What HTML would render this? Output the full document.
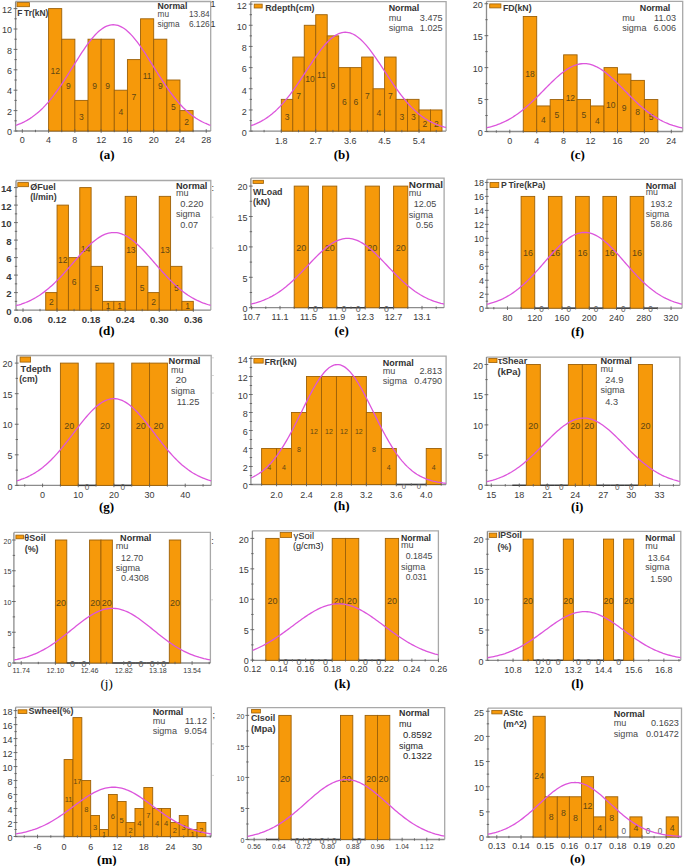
<!DOCTYPE html>
<html><head><meta charset="utf-8"><style>
html,body{margin:0;padding:0;background:#fff;width:685px;height:866px;overflow:hidden;font-family:"Liberation Sans",sans-serif;}
svg{display:block;}
</style></head><body>
<svg width="685" height="866" viewBox="0 0 685 866" font-family="Liberation Sans, sans-serif"><rect width="685" height="866" fill="#fff"/><clipPath id="ca"><rect x="15.6" y="1.5" width="195.1" height="129.5"/></clipPath>
<path d="M15.6 1.5H210.7V131" fill="none" stroke="#a8a8a8" stroke-width="1.3"/>
<path d="M15.6 1.5V131H210.7" fill="none" stroke="#8c8c8c" stroke-width="1.3"/>
<rect x="48.6" y="8.6" width="13.14" height="122.4" fill="#F6990A" stroke="#9c6008" stroke-width="0.9"/>
<rect x="61.74" y="39.2" width="13.14" height="91.8" fill="#F6990A" stroke="#9c6008" stroke-width="0.9"/>
<rect x="74.87" y="100.4" width="13.14" height="30.6" fill="#F6990A" stroke="#9c6008" stroke-width="0.9"/>
<rect x="88.01" y="39.2" width="13.14" height="91.8" fill="#F6990A" stroke="#9c6008" stroke-width="0.9"/>
<rect x="101.15" y="39.2" width="13.14" height="91.8" fill="#F6990A" stroke="#9c6008" stroke-width="0.9"/>
<rect x="114.28" y="90.2" width="13.14" height="40.8" fill="#F6990A" stroke="#9c6008" stroke-width="0.9"/>
<rect x="127.42" y="59.6" width="13.14" height="71.4" fill="#F6990A" stroke="#9c6008" stroke-width="0.9"/>
<rect x="140.55" y="18.8" width="13.14" height="112.2" fill="#F6990A" stroke="#9c6008" stroke-width="0.9"/>
<rect x="153.69" y="39.2" width="13.14" height="91.8" fill="#F6990A" stroke="#9c6008" stroke-width="0.9"/>
<rect x="166.83" y="80" width="13.14" height="51" fill="#F6990A" stroke="#9c6008" stroke-width="0.9"/>
<rect x="179.96" y="110.6" width="13.14" height="20.4" fill="#F6990A" stroke="#9c6008" stroke-width="0.9"/>
<path d="M13.6 131H17.4" stroke="#606060" stroke-width="0.9"/>
<text x="12.1" y="135.24" font-size="9" fill="#3a3a3a" text-anchor="end">0</text>
<path d="M13.6 110.6H17.4" stroke="#606060" stroke-width="0.9"/>
<text x="12.1" y="114.84" font-size="9" fill="#3a3a3a" text-anchor="end">2</text>
<path d="M13.6 90.2H17.4" stroke="#606060" stroke-width="0.9"/>
<text x="12.1" y="94.44" font-size="9" fill="#3a3a3a" text-anchor="end">4</text>
<path d="M13.6 69.8H17.4" stroke="#606060" stroke-width="0.9"/>
<text x="12.1" y="74.04" font-size="9" fill="#3a3a3a" text-anchor="end">6</text>
<path d="M13.6 49.4H17.4" stroke="#606060" stroke-width="0.9"/>
<text x="12.1" y="53.64" font-size="9" fill="#3a3a3a" text-anchor="end">8</text>
<path d="M13.6 29H17.4" stroke="#606060" stroke-width="0.9"/>
<text x="12.1" y="33.24" font-size="9" fill="#3a3a3a" text-anchor="end">10</text>
<path d="M13.6 8.6H17.4" stroke="#606060" stroke-width="0.9"/>
<text x="12.1" y="12.84" font-size="9" fill="#3a3a3a" text-anchor="end">12</text>
<path d="M14.4 120.8H16.8" stroke="#606060" stroke-width="0.9"/>
<path d="M14.4 100.4H16.8" stroke="#606060" stroke-width="0.9"/>
<path d="M14.4 80H16.8" stroke="#606060" stroke-width="0.9"/>
<path d="M14.4 59.6H16.8" stroke="#606060" stroke-width="0.9"/>
<path d="M14.4 39.2H16.8" stroke="#606060" stroke-width="0.9"/>
<path d="M14.4 18.8H16.8" stroke="#606060" stroke-width="0.9"/>
<path d="M22.33 129.2V132.8" stroke="#606060" stroke-width="0.9"/>
<text x="22.33" y="143.14" font-size="9" fill="#3a3a3a" text-anchor="middle">0</text>
<path d="M48.6 129.2V132.8" stroke="#606060" stroke-width="0.9"/>
<text x="48.6" y="143.14" font-size="9" fill="#3a3a3a" text-anchor="middle">4</text>
<path d="M74.87 129.2V132.8" stroke="#606060" stroke-width="0.9"/>
<text x="74.87" y="143.14" font-size="9" fill="#3a3a3a" text-anchor="middle">8</text>
<path d="M101.15 129.2V132.8" stroke="#606060" stroke-width="0.9"/>
<text x="101.15" y="143.14" font-size="9" fill="#3a3a3a" text-anchor="middle">12</text>
<path d="M127.42 129.2V132.8" stroke="#606060" stroke-width="0.9"/>
<text x="127.42" y="143.14" font-size="9" fill="#3a3a3a" text-anchor="middle">16</text>
<path d="M153.69 129.2V132.8" stroke="#606060" stroke-width="0.9"/>
<text x="153.69" y="143.14" font-size="9" fill="#3a3a3a" text-anchor="middle">20</text>
<path d="M179.96 129.2V132.8" stroke="#606060" stroke-width="0.9"/>
<text x="179.96" y="143.14" font-size="9" fill="#3a3a3a" text-anchor="middle">24</text>
<path d="M206.24 129.2V132.8" stroke="#606060" stroke-width="0.9"/>
<text x="206.24" y="143.14" font-size="9" fill="#3a3a3a" text-anchor="middle">28</text>
<path d="M35.46 129.8V132.2" stroke="#606060" stroke-width="0.9"/>
<path d="M61.74 129.8V132.2" stroke="#606060" stroke-width="0.9"/>
<path d="M88.01 129.8V132.2" stroke="#606060" stroke-width="0.9"/>
<path d="M114.28 129.8V132.2" stroke="#606060" stroke-width="0.9"/>
<path d="M140.55 129.8V132.2" stroke="#606060" stroke-width="0.9"/>
<path d="M166.83 129.8V132.2" stroke="#606060" stroke-width="0.9"/>
<path d="M193.1 129.8V132.2" stroke="#606060" stroke-width="0.9"/>
<text x="55.17" y="74.07" font-size="8.5" fill="#5e4614" text-anchor="middle">12</text>
<text x="68.3" y="89.37" font-size="8.5" fill="#5e4614" text-anchor="middle">9</text>
<text x="81.44" y="119.97" font-size="8.5" fill="#5e4614" text-anchor="middle">3</text>
<text x="94.58" y="89.37" font-size="8.5" fill="#5e4614" text-anchor="middle">9</text>
<text x="107.71" y="89.37" font-size="8.5" fill="#5e4614" text-anchor="middle">9</text>
<text x="120.85" y="114.87" font-size="8.5" fill="#5e4614" text-anchor="middle">4</text>
<text x="133.99" y="99.57" font-size="8.5" fill="#5e4614" text-anchor="middle">7</text>
<text x="147.12" y="79.17" font-size="8.5" fill="#5e4614" text-anchor="middle">11</text>
<text x="160.26" y="89.37" font-size="8.5" fill="#5e4614" text-anchor="middle">9</text>
<text x="173.4" y="109.77" font-size="8.5" fill="#5e4614" text-anchor="middle">5</text>
<text x="186.53" y="125.07" font-size="8.5" fill="#5e4614" text-anchor="middle">2</text>
<polyline clip-path="url(#ca)" points="15.6,125.4 17.23,124.83 18.85,124.21 20.48,123.54 22.1,122.82 23.73,122.05 25.35,121.21 26.98,120.32 28.61,119.36 30.23,118.34 31.86,117.25 33.48,116.09 35.11,114.86 36.74,113.56 38.36,112.18 39.99,110.73 41.61,109.2 43.24,107.59 44.86,105.91 46.49,104.14 48.12,102.31 49.74,100.39 51.37,98.4 52.99,96.34 54.62,94.21 56.25,92.01 57.87,89.75 59.5,87.43 61.12,85.05 62.75,82.62 64.38,80.15 66,77.63 67.63,75.09 69.25,72.52 70.88,69.92 72.5,67.32 74.13,64.72 75.76,62.12 77.38,59.54 79.01,56.98 80.63,54.45 82.26,51.97 83.88,49.54 85.51,47.17 87.14,44.88 88.76,42.66 90.39,40.54 92.01,38.51 93.64,36.6 95.27,34.8 96.89,33.13 98.52,31.59 100.14,30.2 101.77,28.95 103.39,27.85 105.02,26.91 106.65,26.13 108.27,25.52 109.9,25.08 111.52,24.82 113.15,24.72 114.78,24.8 116.4,25.05 118.03,25.47 119.65,26.06 121.28,26.82 122.91,27.75 124.53,28.83 126.16,30.06 127.78,31.45 129.41,32.97 131.03,34.63 132.66,36.41 134.29,38.32 135.91,40.33 137.54,42.45 139.16,44.65 140.79,46.94 142.41,49.3 144.04,51.73 145.67,54.2 147.29,56.73 148.92,59.28 150.54,61.86 152.17,64.46 153.8,67.06 155.42,69.67 157.05,72.26 158.67,74.83 160.3,77.38 161.92,79.9 163.55,82.38 165.18,84.81 166.8,87.19 168.43,89.52 170.05,91.79 171.68,94 173.31,96.13 174.93,98.2 176.56,100.2 178.18,102.12 179.81,103.97 181.44,105.73 183.06,107.43 184.69,109.04 186.31,110.58 187.94,112.04 189.56,113.42 191.19,114.73 192.82,115.97 194.44,117.14 196.07,118.23 197.69,119.26 199.32,120.22 200.94,121.13 202.57,121.97 204.2,122.75 205.82,123.47 207.45,124.15 209.07,124.77 210.7,125.35" fill="none" stroke="#dc55dc" stroke-width="1.3"/>
<rect x="17" y="2.6" width="12.4" height="4.1" fill="#F6990A" stroke="#9c6008" stroke-width="0.8"/>
<text x="17.2" y="16.3" font-size="8.8" fill="#383838" font-weight="bold" textLength="31.1" lengthAdjust="spacingAndGlyphs">F Tr(kN)</text>
<text x="157.5" y="9.4" font-size="8.8" fill="#303030" font-weight="bold" textLength="29.8" lengthAdjust="spacingAndGlyphs">Normal</text>
<text x="157.5" y="17.1" font-size="8.3" fill="#484848">mu</text>
<text x="209.7" y="17.1" font-size="8.3" fill="#484848" text-anchor="end">13.84</text>
<text x="157.5" y="27.1" font-size="8.3" fill="#484848">sigma</text>
<text x="209.7" y="27.1" font-size="8.3" fill="#484848" text-anchor="end">6.126</text>
<text x="213" y="7" font-size="9" fill="#333" text-anchor="middle">1</text>
<text x="213" y="27.4" font-size="9" fill="#333" text-anchor="middle">1</text>
<text x="107.1" y="159.4" font-size="13" fill="#000" text-anchor="middle" font-weight="bold" font-family="Liberation Serif">(a)</text>
<clipPath id="cb"><rect x="250.8" y="1.6" width="195.3" height="129.5"/></clipPath>
<path d="M250.8 1.6H446.1V131.1" fill="none" stroke="#a8a8a8" stroke-width="1.3"/>
<path d="M250.8 1.6V131.1H446.1" fill="none" stroke="#8c8c8c" stroke-width="1.3"/>
<rect x="281.3" y="99.35" width="11.48" height="31.75" fill="#F6990A" stroke="#9c6008" stroke-width="0.9"/>
<rect x="292.78" y="57.03" width="11.48" height="74.07" fill="#F6990A" stroke="#9c6008" stroke-width="0.9"/>
<rect x="304.26" y="25.28" width="11.48" height="105.82" fill="#F6990A" stroke="#9c6008" stroke-width="0.9"/>
<rect x="315.74" y="14.7" width="11.48" height="116.4" fill="#F6990A" stroke="#9c6008" stroke-width="0.9"/>
<rect x="327.21" y="35.86" width="11.48" height="95.24" fill="#F6990A" stroke="#9c6008" stroke-width="0.9"/>
<rect x="338.69" y="67.61" width="11.48" height="63.49" fill="#F6990A" stroke="#9c6008" stroke-width="0.9"/>
<rect x="350.17" y="67.61" width="11.48" height="63.49" fill="#F6990A" stroke="#9c6008" stroke-width="0.9"/>
<rect x="361.65" y="57.03" width="11.48" height="74.07" fill="#F6990A" stroke="#9c6008" stroke-width="0.9"/>
<rect x="373.13" y="88.77" width="11.48" height="42.33" fill="#F6990A" stroke="#9c6008" stroke-width="0.9"/>
<rect x="384.61" y="57.03" width="11.48" height="74.07" fill="#F6990A" stroke="#9c6008" stroke-width="0.9"/>
<rect x="396.09" y="99.35" width="11.48" height="31.75" fill="#F6990A" stroke="#9c6008" stroke-width="0.9"/>
<rect x="407.56" y="99.35" width="11.48" height="31.75" fill="#F6990A" stroke="#9c6008" stroke-width="0.9"/>
<rect x="419.04" y="109.94" width="11.48" height="21.16" fill="#F6990A" stroke="#9c6008" stroke-width="0.9"/>
<rect x="430.52" y="109.94" width="11.48" height="21.16" fill="#F6990A" stroke="#9c6008" stroke-width="0.9"/>
<path d="M248.8 131.1H252.6" stroke="#606060" stroke-width="0.9"/>
<text x="246.8" y="135.84" font-size="9" fill="#3a3a3a" text-anchor="end">0</text>
<path d="M248.8 109.94H252.6" stroke="#606060" stroke-width="0.9"/>
<text x="246.8" y="114.68" font-size="9" fill="#3a3a3a" text-anchor="end">2</text>
<path d="M248.8 88.77H252.6" stroke="#606060" stroke-width="0.9"/>
<text x="246.8" y="93.51" font-size="9" fill="#3a3a3a" text-anchor="end">4</text>
<path d="M248.8 67.61H252.6" stroke="#606060" stroke-width="0.9"/>
<text x="246.8" y="72.35" font-size="9" fill="#3a3a3a" text-anchor="end">6</text>
<path d="M248.8 46.45H252.6" stroke="#606060" stroke-width="0.9"/>
<text x="246.8" y="51.19" font-size="9" fill="#3a3a3a" text-anchor="end">8</text>
<path d="M248.8 25.28H252.6" stroke="#606060" stroke-width="0.9"/>
<text x="246.8" y="30.02" font-size="9" fill="#3a3a3a" text-anchor="end">10</text>
<path d="M248.8 4.12H252.6" stroke="#606060" stroke-width="0.9"/>
<text x="246.8" y="8.86" font-size="9" fill="#3a3a3a" text-anchor="end">12</text>
<path d="M249.6 120.52H252" stroke="#606060" stroke-width="0.9"/>
<path d="M249.6 99.35H252" stroke="#606060" stroke-width="0.9"/>
<path d="M249.6 78.19H252" stroke="#606060" stroke-width="0.9"/>
<path d="M249.6 57.03H252" stroke="#606060" stroke-width="0.9"/>
<path d="M249.6 35.86H252" stroke="#606060" stroke-width="0.9"/>
<path d="M249.6 14.7H252" stroke="#606060" stroke-width="0.9"/>
<path d="M281.3 129.3V132.9" stroke="#606060" stroke-width="0.9"/>
<text x="281.3" y="144.04" font-size="9" fill="#3a3a3a" text-anchor="middle">1.8</text>
<path d="M315.74 129.3V132.9" stroke="#606060" stroke-width="0.9"/>
<text x="315.74" y="144.04" font-size="9" fill="#3a3a3a" text-anchor="middle">2.7</text>
<path d="M350.17 129.3V132.9" stroke="#606060" stroke-width="0.9"/>
<text x="350.17" y="144.04" font-size="9" fill="#3a3a3a" text-anchor="middle">3.6</text>
<path d="M384.61 129.3V132.9" stroke="#606060" stroke-width="0.9"/>
<text x="384.61" y="144.04" font-size="9" fill="#3a3a3a" text-anchor="middle">4.5</text>
<path d="M419.04 129.3V132.9" stroke="#606060" stroke-width="0.9"/>
<text x="419.04" y="144.04" font-size="9" fill="#3a3a3a" text-anchor="middle">5.4</text>
<path d="M264.08 129.9V132.3" stroke="#606060" stroke-width="0.9"/>
<path d="M298.52 129.9V132.3" stroke="#606060" stroke-width="0.9"/>
<path d="M332.95 129.9V132.3" stroke="#606060" stroke-width="0.9"/>
<path d="M367.39 129.9V132.3" stroke="#606060" stroke-width="0.9"/>
<path d="M401.83 129.9V132.3" stroke="#606060" stroke-width="0.9"/>
<path d="M436.26 129.9V132.3" stroke="#606060" stroke-width="0.9"/>
<text x="287.04" y="119.57" font-size="8.5" fill="#5e4614" text-anchor="middle">3</text>
<text x="298.52" y="98.88" font-size="8.5" fill="#5e4614" text-anchor="middle">7</text>
<text x="310" y="81.57" font-size="8.5" fill="#5e4614" text-anchor="middle">10</text>
<text x="321.48" y="78.07" font-size="8.5" fill="#5e4614" text-anchor="middle">11</text>
<text x="332.95" y="89.27" font-size="8.5" fill="#5e4614" text-anchor="middle">9</text>
<text x="344.43" y="105.17" font-size="8.5" fill="#5e4614" text-anchor="middle">6</text>
<text x="355.91" y="105.17" font-size="8.5" fill="#5e4614" text-anchor="middle">6</text>
<text x="367.39" y="98.97" font-size="8.5" fill="#5e4614" text-anchor="middle">7</text>
<text x="378.87" y="116.17" font-size="8.5" fill="#5e4614" text-anchor="middle">4</text>
<text x="390.35" y="98.97" font-size="8.5" fill="#5e4614" text-anchor="middle">7</text>
<text x="401.83" y="119.57" font-size="8.5" fill="#5e4614" text-anchor="middle">3</text>
<text x="413.3" y="119.57" font-size="8.5" fill="#5e4614" text-anchor="middle">3</text>
<text x="424.78" y="127.17" font-size="8.5" fill="#5e4614" text-anchor="middle">2</text>
<text x="436.26" y="127.17" font-size="8.5" fill="#5e4614" text-anchor="middle">2</text>
<polyline clip-path="url(#cb)" points="250.8,125.71 252.43,125.14 254.06,124.53 255.68,123.87 257.31,123.16 258.94,122.39 260.56,121.57 262.19,120.68 263.82,119.73 265.45,118.72 267.07,117.64 268.7,116.49 270.33,115.27 271.96,113.97 273.59,112.6 275.21,111.16 276.84,109.64 278.47,108.05 280.1,106.38 281.72,104.63 283.35,102.81 284.98,100.92 286.61,98.96 288.23,96.92 289.86,94.82 291.49,92.66 293.12,90.44 294.74,88.16 296.37,85.84 298,83.47 299.62,81.06 301.25,78.63 302.88,76.17 304.51,73.69 306.13,71.2 307.76,68.71 309.39,66.24 311.02,63.78 312.65,61.34 314.27,58.95 315.9,56.59 317.53,54.3 319.16,52.07 320.78,49.91 322.41,47.84 324.04,45.87 325.67,44 327.29,42.24 328.92,40.6 330.55,39.08 332.18,37.71 333.8,36.48 335.43,35.39 337.06,34.46 338.69,33.69 340.31,33.08 341.94,32.64 343.57,32.36 345.2,32.26 346.82,32.32 348.45,32.55 350.08,32.96 351.71,33.53 353.33,34.26 354.96,35.15 356.59,36.2 358.22,37.4 359.84,38.74 361.47,40.22 363.1,41.83 364.73,43.57 366.35,45.41 367.98,47.37 369.61,49.41 371.24,51.55 372.86,53.76 374.49,56.04 376.12,58.38 377.75,60.77 379.37,63.19 381,65.65 382.63,68.12 384.25,70.61 385.88,73.1 387.51,75.58 389.14,78.04 390.76,80.49 392.39,82.9 394.02,85.28 395.65,87.61 397.27,89.9 398.9,92.14 400.53,94.31 402.16,96.43 403.79,98.48 405.41,100.46 407.04,102.37 408.67,104.21 410.3,105.97 411.92,107.66 413.55,109.27 415.18,110.81 416.81,112.27 418.43,113.65 420.06,114.97 421.69,116.2 423.32,117.37 424.94,118.47 426.57,119.5 428.2,120.46 429.83,121.36 431.45,122.2 433.08,122.98 434.71,123.71 436.34,124.38 437.96,125 439.59,125.58 441.22,126.11 442.85,126.59 444.47,127.04 446.1,127.44" fill="none" stroke="#dc55dc" stroke-width="1.3"/>
<rect x="254.2" y="4.1" width="8" height="3.9" fill="#F6990A" stroke="#9c6008" stroke-width="0.8"/>
<text x="265.2" y="10.9" font-size="8.8" fill="#383838" font-weight="bold" textLength="49.3" lengthAdjust="spacingAndGlyphs">Rdepth(cm)</text>
<text x="388.7" y="11.4" font-size="8.8" fill="#303030" font-weight="bold" textLength="30.5" lengthAdjust="spacingAndGlyphs">Normal</text>
<text x="388.7" y="20.7" font-size="9.1" fill="#484848">mu</text>
<text x="442.6" y="20.7" font-size="9.1" fill="#484848" text-anchor="end">3.475</text>
<text x="388.7" y="31.4" font-size="9.1" fill="#484848">sigma</text>
<text x="442.6" y="31.4" font-size="9.1" fill="#484848" text-anchor="end">1.025</text>
<text x="341.6" y="159.4" font-size="13" fill="#000" text-anchor="middle" font-weight="bold" font-family="Liberation Serif">(b)</text>
<clipPath id="cc"><rect x="486.5" y="1.4" width="196.2" height="130.1"/></clipPath>
<path d="M486.5 1.4H682.7V131.5" fill="none" stroke="#a8a8a8" stroke-width="1.3"/>
<path d="M486.5 1.4V131.5H682.7" fill="none" stroke="#8c8c8c" stroke-width="1.3"/>
<rect x="523.26" y="16.5" width="13.46" height="115" fill="#F6990A" stroke="#9c6008" stroke-width="0.9"/>
<rect x="536.72" y="105.94" width="13.46" height="25.56" fill="#F6990A" stroke="#9c6008" stroke-width="0.9"/>
<rect x="550.17" y="99.56" width="13.46" height="31.94" fill="#F6990A" stroke="#9c6008" stroke-width="0.9"/>
<rect x="563.63" y="54.83" width="13.46" height="76.67" fill="#F6990A" stroke="#9c6008" stroke-width="0.9"/>
<rect x="577.09" y="99.56" width="13.46" height="31.94" fill="#F6990A" stroke="#9c6008" stroke-width="0.9"/>
<rect x="590.55" y="105.94" width="13.46" height="25.56" fill="#F6990A" stroke="#9c6008" stroke-width="0.9"/>
<rect x="604.01" y="67.61" width="13.46" height="63.89" fill="#F6990A" stroke="#9c6008" stroke-width="0.9"/>
<rect x="617.47" y="74" width="13.46" height="57.5" fill="#F6990A" stroke="#9c6008" stroke-width="0.9"/>
<rect x="630.92" y="80.39" width="13.46" height="51.11" fill="#F6990A" stroke="#9c6008" stroke-width="0.9"/>
<rect x="644.38" y="99.56" width="13.46" height="31.94" fill="#F6990A" stroke="#9c6008" stroke-width="0.9"/>
<path d="M484.5 131.5H488.3" stroke="#606060" stroke-width="0.9"/>
<text x="482.7" y="135.74" font-size="9" fill="#3a3a3a" text-anchor="end">0</text>
<path d="M484.5 99.56H488.3" stroke="#606060" stroke-width="0.9"/>
<text x="482.7" y="103.8" font-size="9" fill="#3a3a3a" text-anchor="end">5</text>
<path d="M484.5 67.61H488.3" stroke="#606060" stroke-width="0.9"/>
<text x="482.7" y="71.85" font-size="9" fill="#3a3a3a" text-anchor="end">10</text>
<path d="M484.5 35.67H488.3" stroke="#606060" stroke-width="0.9"/>
<text x="482.7" y="39.91" font-size="9" fill="#3a3a3a" text-anchor="end">15</text>
<path d="M484.5 3.72H488.3" stroke="#606060" stroke-width="0.9"/>
<text x="482.7" y="7.96" font-size="9" fill="#3a3a3a" text-anchor="end">20</text>
<path d="M485.3 115.53H487.7" stroke="#606060" stroke-width="0.9"/>
<path d="M485.3 83.58H487.7" stroke="#606060" stroke-width="0.9"/>
<path d="M485.3 51.64H487.7" stroke="#606060" stroke-width="0.9"/>
<path d="M485.3 19.69H487.7" stroke="#606060" stroke-width="0.9"/>
<path d="M509.8 129.7V133.3" stroke="#606060" stroke-width="0.9"/>
<text x="509.8" y="144.04" font-size="9" fill="#3a3a3a" text-anchor="middle">0</text>
<path d="M536.72 129.7V133.3" stroke="#606060" stroke-width="0.9"/>
<text x="536.72" y="144.04" font-size="9" fill="#3a3a3a" text-anchor="middle">4</text>
<path d="M563.63 129.7V133.3" stroke="#606060" stroke-width="0.9"/>
<text x="563.63" y="144.04" font-size="9" fill="#3a3a3a" text-anchor="middle">8</text>
<path d="M590.55 129.7V133.3" stroke="#606060" stroke-width="0.9"/>
<text x="590.55" y="144.04" font-size="9" fill="#3a3a3a" text-anchor="middle">12</text>
<path d="M617.47 129.7V133.3" stroke="#606060" stroke-width="0.9"/>
<text x="617.47" y="144.04" font-size="9" fill="#3a3a3a" text-anchor="middle">16</text>
<path d="M644.38 129.7V133.3" stroke="#606060" stroke-width="0.9"/>
<text x="644.38" y="144.04" font-size="9" fill="#3a3a3a" text-anchor="middle">20</text>
<path d="M671.3 129.7V133.3" stroke="#606060" stroke-width="0.9"/>
<text x="671.3" y="144.04" font-size="9" fill="#3a3a3a" text-anchor="middle">24</text>
<path d="M496.34 130.3V132.7" stroke="#606060" stroke-width="0.9"/>
<path d="M523.26 130.3V132.7" stroke="#606060" stroke-width="0.9"/>
<path d="M550.17 130.3V132.7" stroke="#606060" stroke-width="0.9"/>
<path d="M577.09 130.3V132.7" stroke="#606060" stroke-width="0.9"/>
<path d="M604.01 130.3V132.7" stroke="#606060" stroke-width="0.9"/>
<path d="M630.92 130.3V132.7" stroke="#606060" stroke-width="0.9"/>
<path d="M657.84 130.3V132.7" stroke="#606060" stroke-width="0.9"/>
<text x="529.99" y="76.57" font-size="8.5" fill="#5e4614" text-anchor="middle">18</text>
<text x="543.45" y="122.97" font-size="8.5" fill="#5e4614" text-anchor="middle">4</text>
<text x="556.9" y="118.17" font-size="8.5" fill="#5e4614" text-anchor="middle">5</text>
<text x="570.36" y="101.47" font-size="8.5" fill="#5e4614" text-anchor="middle">12</text>
<text x="583.82" y="118.17" font-size="8.5" fill="#5e4614" text-anchor="middle">5</text>
<text x="597.28" y="123.88" font-size="8.5" fill="#5e4614" text-anchor="middle">4</text>
<text x="610.74" y="108.07" font-size="8.5" fill="#5e4614" text-anchor="middle">10</text>
<text x="624.2" y="111.47" font-size="8.5" fill="#5e4614" text-anchor="middle">9</text>
<text x="637.65" y="115.47" font-size="8.5" fill="#5e4614" text-anchor="middle">8</text>
<text x="651.11" y="120.47" font-size="8.5" fill="#5e4614" text-anchor="middle">5</text>
<polyline clip-path="url(#cc)" points="486.5,127.81 488.13,127.43 489.77,127.02 491.4,126.59 493.04,126.11 494.68,125.6 496.31,125.06 497.94,124.47 499.58,123.85 501.22,123.18 502.85,122.47 504.49,121.71 506.12,120.91 507.75,120.06 509.39,119.16 511.03,118.21 512.66,117.22 514.29,116.17 515.93,115.08 517.57,113.93 519.2,112.74 520.84,111.5 522.47,110.21 524.11,108.87 525.74,107.5 527.38,106.07 529.01,104.61 530.64,103.11 532.28,101.58 533.91,100.02 535.55,98.42 537.19,96.81 538.82,95.17 540.46,93.52 542.09,91.86 543.73,90.2 545.36,88.53 547,86.87 548.63,85.23 550.26,83.6 551.9,81.99 553.53,80.41 555.17,78.87 556.81,77.38 558.44,75.93 560.08,74.53 561.71,73.2 563.35,71.93 564.98,70.73 566.62,69.62 568.25,68.58 569.88,67.63 571.52,66.77 573.15,66.01 574.79,65.35 576.42,64.79 578.06,64.33 579.7,63.99 581.33,63.75 582.97,63.62 584.6,63.61 586.24,63.7 587.87,63.91 589.5,64.22 591.14,64.64 592.78,65.17 594.41,65.81 596.05,66.54 597.68,67.37 599.32,68.29 600.95,69.3 602.59,70.4 604.22,71.57 605.86,72.82 607.49,74.13 609.12,75.51 610.76,76.95 612.39,78.43 614.03,79.96 615.66,81.52 617.3,83.12 618.94,84.74 620.57,86.39 622.21,88.04 623.84,89.71 625.48,91.37 627.11,93.04 628.75,94.69 630.38,96.33 632.01,97.95 633.65,99.55 635.29,101.12 636.92,102.67 638.56,104.18 640.19,105.65 641.83,107.08 643.46,108.47 645.1,109.82 646.73,111.12 648.37,112.38 650,113.59 651.63,114.75 653.27,115.85 654.91,116.91 656.54,117.92 658.18,118.89 659.81,119.8 661.45,120.66 663.08,121.48 664.72,122.25 666.35,122.97 667.99,123.65 669.62,124.29 671.26,124.89 672.89,125.45 674.53,125.97 676.16,126.45 677.8,126.9 679.43,127.31 681.07,127.7 682.7,128.05" fill="none" stroke="#dc55dc" stroke-width="1.3"/>
<rect x="489.7" y="3.9" width="11.2" height="4" fill="#F6990A" stroke="#9c6008" stroke-width="0.8"/>
<text x="502.9" y="10.5" font-size="8.8" fill="#383838" font-weight="bold" textLength="28.7" lengthAdjust="spacingAndGlyphs">FD(kN)</text>
<text x="639.8" y="11.2" font-size="8.8" fill="#303030" font-weight="bold" textLength="30.5" lengthAdjust="spacingAndGlyphs">Normal</text>
<text x="622.2" y="21" font-size="9.1" fill="#484848">mu</text>
<text x="676.2" y="21" font-size="9.1" fill="#484848" text-anchor="end">11.03</text>
<text x="622.2" y="31.2" font-size="9.1" fill="#484848">sigma</text>
<text x="676.2" y="31.2" font-size="9.1" fill="#484848" text-anchor="end">6.006</text>
<text x="577.6" y="159.4" font-size="13" fill="#000" text-anchor="middle" font-weight="bold" font-family="Liberation Serif">(c)</text>
<clipPath id="cd"><rect x="16" y="180.5" width="194.8" height="129.6"/></clipPath>
<path d="M16 180.5H210.8V310.1" fill="none" stroke="#a8a8a8" stroke-width="1.3"/>
<path d="M16 180.5V310.1H210.8" fill="none" stroke="#8c8c8c" stroke-width="1.3"/>
<rect x="45.71" y="292.6" width="11.35" height="17.5" fill="#F6990A" stroke="#9c6008" stroke-width="0.9"/>
<rect x="57.06" y="205.1" width="11.35" height="105" fill="#F6990A" stroke="#9c6008" stroke-width="0.9"/>
<rect x="68.41" y="257.6" width="11.35" height="52.5" fill="#F6990A" stroke="#9c6008" stroke-width="0.9"/>
<rect x="79.77" y="187.6" width="11.35" height="122.5" fill="#F6990A" stroke="#9c6008" stroke-width="0.9"/>
<rect x="91.12" y="266.35" width="11.35" height="43.75" fill="#F6990A" stroke="#9c6008" stroke-width="0.9"/>
<rect x="102.47" y="301.35" width="11.35" height="8.75" fill="#F6990A" stroke="#9c6008" stroke-width="0.9"/>
<rect x="113.83" y="301.35" width="11.35" height="8.75" fill="#F6990A" stroke="#9c6008" stroke-width="0.9"/>
<rect x="125.18" y="196.35" width="11.35" height="113.75" fill="#F6990A" stroke="#9c6008" stroke-width="0.9"/>
<rect x="136.53" y="266.35" width="11.35" height="43.75" fill="#F6990A" stroke="#9c6008" stroke-width="0.9"/>
<rect x="147.89" y="292.6" width="11.35" height="17.5" fill="#F6990A" stroke="#9c6008" stroke-width="0.9"/>
<rect x="159.24" y="196.35" width="11.35" height="113.75" fill="#F6990A" stroke="#9c6008" stroke-width="0.9"/>
<rect x="170.59" y="266.35" width="11.35" height="43.75" fill="#F6990A" stroke="#9c6008" stroke-width="0.9"/>
<rect x="181.95" y="301.35" width="11.35" height="8.75" fill="#F6990A" stroke="#9c6008" stroke-width="0.9"/>
<path d="M14 310.1H17.8" stroke="#606060" stroke-width="0.9"/>
<text x="11.7" y="314.56" font-size="9.6" fill="#3a3a3a" text-anchor="end" font-weight="bold">0</text>
<path d="M14 292.6H17.8" stroke="#606060" stroke-width="0.9"/>
<text x="11.7" y="297.06" font-size="9.6" fill="#3a3a3a" text-anchor="end" font-weight="bold">2</text>
<path d="M14 275.1H17.8" stroke="#606060" stroke-width="0.9"/>
<text x="11.7" y="279.56" font-size="9.6" fill="#3a3a3a" text-anchor="end" font-weight="bold">4</text>
<path d="M14 257.6H17.8" stroke="#606060" stroke-width="0.9"/>
<text x="11.7" y="262.06" font-size="9.6" fill="#3a3a3a" text-anchor="end" font-weight="bold">6</text>
<path d="M14 240.1H17.8" stroke="#606060" stroke-width="0.9"/>
<text x="11.7" y="244.56" font-size="9.6" fill="#3a3a3a" text-anchor="end" font-weight="bold">8</text>
<path d="M14 222.6H17.8" stroke="#606060" stroke-width="0.9"/>
<text x="11.7" y="227.06" font-size="9.6" fill="#3a3a3a" text-anchor="end" font-weight="bold">10</text>
<path d="M14 205.1H17.8" stroke="#606060" stroke-width="0.9"/>
<text x="11.7" y="209.56" font-size="9.6" fill="#3a3a3a" text-anchor="end" font-weight="bold">12</text>
<path d="M14 187.6H17.8" stroke="#606060" stroke-width="0.9"/>
<text x="11.7" y="192.06" font-size="9.6" fill="#3a3a3a" text-anchor="end" font-weight="bold">14</text>
<path d="M14.8 301.35H17.2" stroke="#606060" stroke-width="0.9"/>
<path d="M14.8 283.85H17.2" stroke="#606060" stroke-width="0.9"/>
<path d="M14.8 266.35H17.2" stroke="#606060" stroke-width="0.9"/>
<path d="M14.8 248.85H17.2" stroke="#606060" stroke-width="0.9"/>
<path d="M14.8 231.35H17.2" stroke="#606060" stroke-width="0.9"/>
<path d="M14.8 213.85H17.2" stroke="#606060" stroke-width="0.9"/>
<path d="M14.8 196.35H17.2" stroke="#606060" stroke-width="0.9"/>
<path d="M23 308.3V311.9" stroke="#606060" stroke-width="0.9"/>
<text x="23" y="322.56" font-size="9.6" fill="#3a3a3a" text-anchor="middle" font-weight="bold">0.06</text>
<path d="M57.06 308.3V311.9" stroke="#606060" stroke-width="0.9"/>
<text x="57.06" y="322.56" font-size="9.6" fill="#3a3a3a" text-anchor="middle" font-weight="bold">0.12</text>
<path d="M91.12 308.3V311.9" stroke="#606060" stroke-width="0.9"/>
<text x="91.12" y="322.56" font-size="9.6" fill="#3a3a3a" text-anchor="middle" font-weight="bold">0.18</text>
<path d="M125.18 308.3V311.9" stroke="#606060" stroke-width="0.9"/>
<text x="125.18" y="322.56" font-size="9.6" fill="#3a3a3a" text-anchor="middle" font-weight="bold">0.24</text>
<path d="M159.24 308.3V311.9" stroke="#606060" stroke-width="0.9"/>
<text x="159.24" y="322.56" font-size="9.6" fill="#3a3a3a" text-anchor="middle" font-weight="bold">0.30</text>
<path d="M193.3 308.3V311.9" stroke="#606060" stroke-width="0.9"/>
<text x="193.3" y="322.56" font-size="9.6" fill="#3a3a3a" text-anchor="middle" font-weight="bold">0.36</text>
<path d="M40.03 308.9V311.3" stroke="#606060" stroke-width="0.9"/>
<path d="M74.09 308.9V311.3" stroke="#606060" stroke-width="0.9"/>
<path d="M108.15 308.9V311.3" stroke="#606060" stroke-width="0.9"/>
<path d="M142.21 308.9V311.3" stroke="#606060" stroke-width="0.9"/>
<path d="M176.27 308.9V311.3" stroke="#606060" stroke-width="0.9"/>
<text x="51.38" y="304.98" font-size="8.5" fill="#5e4614" text-anchor="middle">2</text>
<text x="62.74" y="263.48" font-size="8.5" fill="#5e4614" text-anchor="middle">12</text>
<text x="74.09" y="285.08" font-size="8.5" fill="#5e4614" text-anchor="middle">6</text>
<text x="85.44" y="251.57" font-size="8.5" fill="#5e4614" text-anchor="middle">14</text>
<text x="96.8" y="291.28" font-size="8.5" fill="#5e4614" text-anchor="middle">5</text>
<text x="108.15" y="308.68" font-size="8.5" fill="#5e4614" text-anchor="middle">1</text>
<text x="119.5" y="308.68" font-size="8.5" fill="#5e4614" text-anchor="middle">1</text>
<text x="130.86" y="252.88" font-size="8.5" fill="#5e4614" text-anchor="middle">13</text>
<text x="142.21" y="291.28" font-size="8.5" fill="#5e4614" text-anchor="middle">5</text>
<text x="153.56" y="304.98" font-size="8.5" fill="#5e4614" text-anchor="middle">2</text>
<text x="164.92" y="252.88" font-size="8.5" fill="#5e4614" text-anchor="middle">13</text>
<text x="176.27" y="291.28" font-size="8.5" fill="#5e4614" text-anchor="middle">5</text>
<text x="187.62" y="308.68" font-size="8.5" fill="#5e4614" text-anchor="middle">1</text>
<polyline clip-path="url(#cd)" points="16,305.68 17.62,305.24 19.25,304.77 20.87,304.26 22.49,303.71 24.12,303.12 25.74,302.5 27.36,301.82 28.99,301.1 30.61,300.34 32.23,299.52 33.86,298.66 35.48,297.75 37.1,296.78 38.73,295.76 40.35,294.69 41.97,293.56 43.6,292.38 45.22,291.14 46.84,289.85 48.47,288.5 50.09,287.1 51.71,285.65 53.34,284.15 54.96,282.6 56.58,281.01 58.21,279.37 59.83,277.69 61.45,275.97 63.08,274.21 64.7,272.43 66.32,270.62 67.95,268.79 69.57,266.94 71.19,265.08 72.82,263.21 74.44,261.34 76.06,259.48 77.69,257.63 79.31,255.8 80.93,253.99 82.56,252.21 84.18,250.47 85.8,248.78 87.43,247.13 89.05,245.55 90.67,244.03 92.3,242.58 93.92,241.2 95.54,239.91 97.17,238.71 98.79,237.6 100.41,236.59 102.04,235.69 103.66,234.89 105.28,234.2 106.91,233.63 108.53,233.18 110.15,232.84 111.78,232.63 113.4,232.53 115.02,232.56 116.65,232.71 118.27,232.98 119.89,233.38 121.52,233.89 123.14,234.52 124.76,235.26 126.39,236.11 128.01,237.06 129.63,238.12 131.26,239.27 132.88,240.51 134.5,241.85 136.13,243.26 137.75,244.74 139.37,246.29 141,247.91 142.62,249.57 144.24,251.29 145.87,253.05 147.49,254.84 149.11,256.66 150.74,258.5 152.36,260.36 153.98,262.23 155.61,264.1 157.23,265.96 158.85,267.82 160.48,269.66 162.1,271.48 163.72,273.28 165.35,275.05 166.97,276.79 168.59,278.49 170.22,280.15 171.84,281.77 173.46,283.35 175.09,284.87 176.71,286.35 178.33,287.77 179.96,289.15 181.58,290.47 183.2,291.73 184.83,292.94 186.45,294.1 188.07,295.2 189.7,296.25 191.32,297.24 192.94,298.19 194.57,299.08 196.19,299.92 197.81,300.71 199.44,301.45 201.06,302.15 202.68,302.8 204.31,303.41 205.93,303.98 207.55,304.5 209.18,305 210.8,305.45" fill="none" stroke="#dc55dc" stroke-width="1.3"/>
<rect x="17.8" y="182.6" width="10.7" height="4.1" fill="#F6990A" stroke="#9c6008" stroke-width="0.8"/>
<text x="30.2" y="189.6" font-size="8.8" fill="#383838" font-weight="bold" textLength="25.7" lengthAdjust="spacingAndGlyphs">ØFuel</text>
<text x="30.2" y="199.6" font-size="8.8" fill="#383838" font-weight="bold" textLength="26.4" lengthAdjust="spacingAndGlyphs">(l/min)</text>
<text x="176" y="189" font-size="8.8" fill="#303030" font-weight="bold" textLength="31.4" lengthAdjust="spacingAndGlyphs">Normal</text>
<text x="176" y="195.6" font-size="9.1" fill="#484848">mu</text>
<text x="180.3" y="207.4" font-size="9.1" fill="#484848" textLength="23.2" lengthAdjust="spacingAndGlyphs">0.220</text>
<text x="176" y="216.6" font-size="9.1" fill="#484848">sigma</text>
<text x="180.3" y="227.7" font-size="9.1" fill="#484848">0.07</text>
<text x="212.7" y="191" font-size="9" fill="#333" text-anchor="middle">:</text>
<path d="M211.8 217.2H213.3" stroke="#bbb" stroke-width="0.8"/>
<path d="M211.8 248.1H213.3" stroke="#bbb" stroke-width="0.8"/>
<text x="106.6" y="335.3" font-size="13" fill="#000" text-anchor="middle" font-weight="bold" font-family="Liberation Serif">(d)</text>
<clipPath id="ce"><rect x="250.9" y="178.2" width="193.2" height="129.5"/></clipPath>
<path d="M250.9 178.2H444.1V307.7" fill="none" stroke="#a8a8a8" stroke-width="1.3"/>
<path d="M250.9 178.2V307.7H444.1" fill="none" stroke="#8c8c8c" stroke-width="1.3"/>
<rect x="294.2" y="186.1" width="14.2" height="121.6" fill="#F6990A" stroke="#9c6008" stroke-width="0.9"/>
<path d="M308.4 307.7H322.6" stroke="#3c3c3c" stroke-width="1.4"/>
<rect x="322.6" y="186.1" width="14.2" height="121.6" fill="#F6990A" stroke="#9c6008" stroke-width="0.9"/>
<path d="M336.8 307.7H351" stroke="#3c3c3c" stroke-width="1.4"/>
<path d="M351 307.7H365.2" stroke="#3c3c3c" stroke-width="1.4"/>
<rect x="365.2" y="186.1" width="14.2" height="121.6" fill="#F6990A" stroke="#9c6008" stroke-width="0.9"/>
<path d="M379.4 307.7H393.6" stroke="#3c3c3c" stroke-width="1.4"/>
<rect x="393.6" y="186.1" width="14.2" height="121.6" fill="#F6990A" stroke="#9c6008" stroke-width="0.9"/>
<path d="M248.9 307.7H252.7" stroke="#606060" stroke-width="0.9"/>
<text x="247.4" y="311.94" font-size="9" fill="#3a3a3a" text-anchor="end">0</text>
<path d="M248.9 277.3H252.7" stroke="#606060" stroke-width="0.9"/>
<text x="247.4" y="281.54" font-size="9" fill="#3a3a3a" text-anchor="end">5</text>
<path d="M248.9 246.9H252.7" stroke="#606060" stroke-width="0.9"/>
<text x="247.4" y="251.14" font-size="9" fill="#3a3a3a" text-anchor="end">10</text>
<path d="M248.9 216.5H252.7" stroke="#606060" stroke-width="0.9"/>
<text x="247.4" y="220.74" font-size="9" fill="#3a3a3a" text-anchor="end">15</text>
<path d="M248.9 186.1H252.7" stroke="#606060" stroke-width="0.9"/>
<text x="247.4" y="190.34" font-size="9" fill="#3a3a3a" text-anchor="end">20</text>
<path d="M249.7 292.5H252.1" stroke="#606060" stroke-width="0.9"/>
<path d="M249.7 262.1H252.1" stroke="#606060" stroke-width="0.9"/>
<path d="M249.7 231.7H252.1" stroke="#606060" stroke-width="0.9"/>
<path d="M249.7 201.3H252.1" stroke="#606060" stroke-width="0.9"/>
<path d="M251.6 305.9V309.5" stroke="#606060" stroke-width="0.9"/>
<text x="251.6" y="320.44" font-size="9" fill="#3a3a3a" text-anchor="middle">10.7</text>
<path d="M280 305.9V309.5" stroke="#606060" stroke-width="0.9"/>
<text x="280" y="320.44" font-size="9" fill="#3a3a3a" text-anchor="middle">11.1</text>
<path d="M308.4 305.9V309.5" stroke="#606060" stroke-width="0.9"/>
<text x="308.4" y="320.44" font-size="9" fill="#3a3a3a" text-anchor="middle">11.5</text>
<path d="M336.8 305.9V309.5" stroke="#606060" stroke-width="0.9"/>
<text x="336.8" y="320.44" font-size="9" fill="#3a3a3a" text-anchor="middle">11.9</text>
<path d="M365.2 305.9V309.5" stroke="#606060" stroke-width="0.9"/>
<text x="365.2" y="320.44" font-size="9" fill="#3a3a3a" text-anchor="middle">12.3</text>
<path d="M393.6 305.9V309.5" stroke="#606060" stroke-width="0.9"/>
<text x="393.6" y="320.44" font-size="9" fill="#3a3a3a" text-anchor="middle">12.7</text>
<path d="M422 305.9V309.5" stroke="#606060" stroke-width="0.9"/>
<text x="422" y="320.44" font-size="9" fill="#3a3a3a" text-anchor="middle">13.1</text>
<path d="M265.8 306.5V308.9" stroke="#606060" stroke-width="0.9"/>
<path d="M294.2 306.5V308.9" stroke="#606060" stroke-width="0.9"/>
<path d="M322.6 306.5V308.9" stroke="#606060" stroke-width="0.9"/>
<path d="M351 306.5V308.9" stroke="#606060" stroke-width="0.9"/>
<path d="M379.4 306.5V308.9" stroke="#606060" stroke-width="0.9"/>
<path d="M407.8 306.5V308.9" stroke="#606060" stroke-width="0.9"/>
<path d="M436.2 306.5V308.9" stroke="#606060" stroke-width="0.9"/>
<text x="301.3" y="251.35" font-size="9" fill="#5e4614" text-anchor="middle">20</text>
<text x="329.7" y="251.35" font-size="9" fill="#5e4614" text-anchor="middle">20</text>
<text x="372.3" y="251.35" font-size="9" fill="#5e4614" text-anchor="middle">20</text>
<text x="400.7" y="251.35" font-size="9" fill="#5e4614" text-anchor="middle">20</text>
<text x="315.5" y="312.18" font-size="8.8" fill="#606060" text-anchor="middle">0</text>
<text x="343.9" y="312.18" font-size="8.8" fill="#606060" text-anchor="middle">0</text>
<text x="358.1" y="312.18" font-size="8.8" fill="#606060" text-anchor="middle">0</text>
<text x="386.5" y="312.18" font-size="8.8" fill="#606060" text-anchor="middle">0</text>
<polyline clip-path="url(#ce)" points="250.9,304.07 252.51,303.69 254.12,303.29 255.73,302.86 257.34,302.39 258.95,301.88 260.56,301.34 262.17,300.75 263.78,300.13 265.39,299.46 267,298.75 268.61,298 270.22,297.19 271.83,296.34 273.44,295.44 275.05,294.5 276.66,293.5 278.27,292.45 279.88,291.35 281.49,290.2 283.1,289 284.71,287.74 286.32,286.45 287.93,285.1 289.54,283.71 291.15,282.27 292.76,280.79 294.37,279.27 295.98,277.72 297.59,276.13 299.2,274.51 300.81,272.87 302.42,271.21 304.03,269.52 305.64,267.83 307.25,266.13 308.86,264.43 310.47,262.73 312.08,261.04 313.69,259.37 315.3,257.72 316.91,256.1 318.52,254.52 320.13,252.97 321.74,251.47 323.35,250.03 324.96,248.64 326.57,247.32 328.18,246.08 329.79,244.91 331.4,243.82 333.01,242.82 334.62,241.91 336.23,241.1 337.84,240.39 339.45,239.79 341.06,239.29 342.67,238.9 344.28,238.62 345.89,238.45 347.5,238.4 349.11,238.46 350.72,238.63 352.33,238.92 353.94,239.32 355.55,239.82 357.16,240.43 358.77,241.15 360.38,241.97 361.99,242.88 363.6,243.89 365.21,244.98 366.82,246.15 368.43,247.4 370.04,248.73 371.65,250.12 373.26,251.56 374.87,253.07 376.48,254.61 378.09,256.2 379.7,257.83 381.31,259.48 382.92,261.15 384.53,262.84 386.14,264.54 387.75,266.24 389.36,267.94 390.97,269.63 392.58,271.31 394.19,272.97 395.8,274.61 397.41,276.23 399.02,277.82 400.63,279.37 402.24,280.88 403.85,282.36 405.46,283.79 407.07,285.18 408.68,286.53 410.29,287.82 411.9,289.07 413.51,290.27 415.12,291.42 416.73,292.51 418.34,293.56 419.95,294.56 421.56,295.5 423.17,296.4 424.78,297.24 426.39,298.04 428,298.8 429.61,299.51 431.22,300.17 432.83,300.79 434.44,301.37 436.05,301.91 437.66,302.42 439.27,302.88 440.88,303.32 442.49,303.72 444.1,304.09" fill="none" stroke="#dc55dc" stroke-width="1.3"/>
<rect x="253" y="180.3" width="10.5" height="3.1" fill="#F6990A" stroke="#9c6008" stroke-width="0.8"/>
<text x="253" y="194.6" font-size="8.8" fill="#383838" font-weight="bold" textLength="29.5" lengthAdjust="spacingAndGlyphs">WLoad</text>
<text x="253" y="204.8" font-size="8.8" fill="#383838" font-weight="bold">(kN)</text>
<text x="408.8" y="188.4" font-size="8.8" fill="#303030" font-weight="bold" textLength="34.3" lengthAdjust="spacingAndGlyphs">Normal</text>
<text x="408.8" y="195.6" font-size="9.1" fill="#484848">mu</text>
<text x="413.7" y="207" font-size="9.1" fill="#484848" textLength="22.6" lengthAdjust="spacingAndGlyphs">12.05</text>
<text x="408.8" y="217.8" font-size="9.1" fill="#484848">sigma</text>
<text x="416" y="228.4" font-size="9.1" fill="#484848" textLength="17.3" lengthAdjust="spacingAndGlyphs">0.56</text>
<text x="341.6" y="334.8" font-size="13" fill="#000" text-anchor="middle" font-weight="bold" font-family="Liberation Serif">(e)</text>
<clipPath id="cf"><rect x="486.9" y="179.4" width="195.2" height="128.8"/></clipPath>
<path d="M486.9 179.4H682.1V308.2" fill="none" stroke="#a8a8a8" stroke-width="1.3"/>
<path d="M486.9 179.4V308.2H682.1" fill="none" stroke="#8c8c8c" stroke-width="1.3"/>
<rect x="521.1" y="196.4" width="13.63" height="111.8" fill="#F6990A" stroke="#9c6008" stroke-width="0.9"/>
<path d="M534.73 308.2H548.37" stroke="#3c3c3c" stroke-width="1.4"/>
<rect x="548.37" y="196.4" width="13.63" height="111.8" fill="#F6990A" stroke="#9c6008" stroke-width="0.9"/>
<path d="M562 308.2H575.63" stroke="#3c3c3c" stroke-width="1.4"/>
<rect x="575.63" y="196.4" width="13.63" height="111.8" fill="#F6990A" stroke="#9c6008" stroke-width="0.9"/>
<path d="M589.27 308.2H602.9" stroke="#3c3c3c" stroke-width="1.4"/>
<rect x="602.9" y="196.4" width="13.63" height="111.8" fill="#F6990A" stroke="#9c6008" stroke-width="0.9"/>
<path d="M616.53 308.2H630.17" stroke="#3c3c3c" stroke-width="1.4"/>
<rect x="630.17" y="196.4" width="13.63" height="111.8" fill="#F6990A" stroke="#9c6008" stroke-width="0.9"/>
<path d="M643.8 308.2H657.43" stroke="#3c3c3c" stroke-width="1.4"/>
<path d="M484.9 308.2H488.7" stroke="#606060" stroke-width="0.9"/>
<text x="483.9" y="311.64" font-size="9" fill="#3a3a3a" text-anchor="end">0</text>
<path d="M484.9 294.22H488.7" stroke="#606060" stroke-width="0.9"/>
<text x="483.9" y="297.66" font-size="9" fill="#3a3a3a" text-anchor="end">2</text>
<path d="M484.9 280.25H488.7" stroke="#606060" stroke-width="0.9"/>
<text x="483.9" y="283.69" font-size="9" fill="#3a3a3a" text-anchor="end">4</text>
<path d="M484.9 266.27H488.7" stroke="#606060" stroke-width="0.9"/>
<text x="483.9" y="269.71" font-size="9" fill="#3a3a3a" text-anchor="end">6</text>
<path d="M484.9 252.3H488.7" stroke="#606060" stroke-width="0.9"/>
<text x="483.9" y="255.74" font-size="9" fill="#3a3a3a" text-anchor="end">8</text>
<path d="M484.9 238.32H488.7" stroke="#606060" stroke-width="0.9"/>
<text x="483.9" y="241.76" font-size="9" fill="#3a3a3a" text-anchor="end">10</text>
<path d="M484.9 224.35H488.7" stroke="#606060" stroke-width="0.9"/>
<text x="483.9" y="227.79" font-size="9" fill="#3a3a3a" text-anchor="end">12</text>
<path d="M484.9 210.38H488.7" stroke="#606060" stroke-width="0.9"/>
<text x="483.9" y="213.81" font-size="9" fill="#3a3a3a" text-anchor="end">14</text>
<path d="M484.9 196.4H488.7" stroke="#606060" stroke-width="0.9"/>
<text x="483.9" y="199.84" font-size="9" fill="#3a3a3a" text-anchor="end">16</text>
<path d="M484.9 182.43H488.7" stroke="#606060" stroke-width="0.9"/>
<text x="483.9" y="185.87" font-size="9" fill="#3a3a3a" text-anchor="end">18</text>
<path d="M485.7 301.21H488.1" stroke="#606060" stroke-width="0.9"/>
<path d="M485.7 287.24H488.1" stroke="#606060" stroke-width="0.9"/>
<path d="M485.7 273.26H488.1" stroke="#606060" stroke-width="0.9"/>
<path d="M485.7 259.29H488.1" stroke="#606060" stroke-width="0.9"/>
<path d="M485.7 245.31H488.1" stroke="#606060" stroke-width="0.9"/>
<path d="M485.7 231.34H488.1" stroke="#606060" stroke-width="0.9"/>
<path d="M485.7 217.36H488.1" stroke="#606060" stroke-width="0.9"/>
<path d="M485.7 203.39H488.1" stroke="#606060" stroke-width="0.9"/>
<path d="M485.7 189.41H488.1" stroke="#606060" stroke-width="0.9"/>
<path d="M507.47 306.4V310" stroke="#606060" stroke-width="0.9"/>
<text x="507.47" y="320.54" font-size="9" fill="#3a3a3a" text-anchor="middle">80</text>
<path d="M534.73 306.4V310" stroke="#606060" stroke-width="0.9"/>
<text x="534.73" y="320.54" font-size="9" fill="#3a3a3a" text-anchor="middle">120</text>
<path d="M562 306.4V310" stroke="#606060" stroke-width="0.9"/>
<text x="562" y="320.54" font-size="9" fill="#3a3a3a" text-anchor="middle">160</text>
<path d="M589.27 306.4V310" stroke="#606060" stroke-width="0.9"/>
<text x="589.27" y="320.54" font-size="9" fill="#3a3a3a" text-anchor="middle">200</text>
<path d="M616.53 306.4V310" stroke="#606060" stroke-width="0.9"/>
<text x="616.53" y="320.54" font-size="9" fill="#3a3a3a" text-anchor="middle">240</text>
<path d="M643.8 306.4V310" stroke="#606060" stroke-width="0.9"/>
<text x="643.8" y="320.54" font-size="9" fill="#3a3a3a" text-anchor="middle">280</text>
<path d="M671.07 306.4V310" stroke="#606060" stroke-width="0.9"/>
<text x="671.07" y="320.54" font-size="9" fill="#3a3a3a" text-anchor="middle">320</text>
<path d="M493.83 307V309.4" stroke="#606060" stroke-width="0.9"/>
<path d="M521.1 307V309.4" stroke="#606060" stroke-width="0.9"/>
<path d="M548.37 307V309.4" stroke="#606060" stroke-width="0.9"/>
<path d="M575.63 307V309.4" stroke="#606060" stroke-width="0.9"/>
<path d="M602.9 307V309.4" stroke="#606060" stroke-width="0.9"/>
<path d="M630.17 307V309.4" stroke="#606060" stroke-width="0.9"/>
<path d="M657.43 307V309.4" stroke="#606060" stroke-width="0.9"/>
<text x="527.92" y="255.85" font-size="9" fill="#5e4614" text-anchor="middle">16</text>
<text x="555.18" y="255.85" font-size="9" fill="#5e4614" text-anchor="middle">16</text>
<text x="582.45" y="255.85" font-size="9" fill="#5e4614" text-anchor="middle">16</text>
<text x="609.72" y="255.85" font-size="9" fill="#5e4614" text-anchor="middle">16</text>
<text x="636.98" y="255.85" font-size="9" fill="#5e4614" text-anchor="middle">16</text>
<text x="541.55" y="312.47" font-size="8.2" fill="#606060" text-anchor="middle">0</text>
<text x="568.82" y="312.47" font-size="8.2" fill="#606060" text-anchor="middle">0</text>
<text x="596.08" y="312.47" font-size="8.2" fill="#606060" text-anchor="middle">0</text>
<text x="623.35" y="312.47" font-size="8.2" fill="#606060" text-anchor="middle">0</text>
<text x="650.62" y="312.47" font-size="8.2" fill="#606060" text-anchor="middle">0</text>
<polyline clip-path="url(#cf)" points="486.9,304.3 488.53,303.9 490.15,303.46 491.78,302.99 493.41,302.49 495.03,301.94 496.66,301.35 498.29,300.72 499.91,300.04 501.54,299.32 503.17,298.55 504.79,297.73 506.42,296.86 508.05,295.94 509.67,294.97 511.3,293.94 512.93,292.85 514.55,291.71 516.18,290.52 517.81,289.27 519.43,287.96 521.06,286.6 522.69,285.19 524.31,283.72 525.94,282.2 527.57,280.64 529.19,279.03 530.82,277.37 532.45,275.68 534.07,273.94 535.7,272.18 537.33,270.38 538.95,268.56 540.58,266.73 542.21,264.87 543.83,263.01 545.46,261.15 547.09,259.29 548.71,257.44 550.34,255.61 551.97,253.8 553.59,252.02 555.22,250.28 556.85,248.58 558.47,246.93 560.1,245.34 561.73,243.82 563.35,242.36 564.98,240.99 566.61,239.7 568.23,238.5 569.86,237.39 571.49,236.38 573.11,235.48 574.74,234.69 576.37,234.01 577.99,233.45 579.62,233.01 581.25,232.69 582.87,232.5 584.5,232.42 586.13,232.48 587.75,232.65 589.38,232.95 591.01,233.37 592.63,233.92 594.26,234.57 595.89,235.35 597.51,236.23 599.14,237.22 600.77,238.31 602.39,239.5 604.02,240.77 605.65,242.14 607.27,243.58 608.9,245.09 610.53,246.67 612.15,248.31 613.78,250 615.41,251.74 617.03,253.51 618.66,255.31 620.29,257.14 621.91,258.99 623.54,260.85 625.17,262.71 626.79,264.57 628.42,266.43 630.05,268.27 631.67,270.09 633.3,271.89 634.93,273.66 636.55,275.4 638.18,277.1 639.81,278.76 641.43,280.38 643.06,281.96 644.69,283.48 646.31,284.95 647.94,286.38 649.57,287.75 651.19,289.06 652.82,290.32 654.45,291.52 656.07,292.67 657.7,293.77 659.33,294.8 660.95,295.79 662.58,296.72 664.21,297.6 665.83,298.42 667.46,299.2 669.09,299.93 670.71,300.61 672.34,301.25 673.97,301.85 675.59,302.4 677.22,302.91 678.85,303.39 680.47,303.83 682.1,304.24" fill="none" stroke="#dc55dc" stroke-width="1.3"/>
<rect x="490" y="182.4" width="8.8" height="5.2" fill="#F6990A" stroke="#9c6008" stroke-width="0.8"/>
<text x="500.9" y="188.1" font-size="8.8" fill="#383838" font-weight="bold" textLength="44.5" lengthAdjust="spacingAndGlyphs">P Tire(kPa)</text>
<text x="645.7" y="188.5" font-size="8.8" fill="#303030" font-weight="bold" textLength="30.5" lengthAdjust="spacingAndGlyphs">Normal</text>
<text x="645.7" y="194.8" font-size="8.8" fill="#484848">mu</text>
<text x="650.6" y="207.1" font-size="8.8" fill="#484848" textLength="21.6" lengthAdjust="spacingAndGlyphs">193.2</text>
<text x="645.7" y="216.6" font-size="8.8" fill="#484848">sigma</text>
<text x="650.6" y="227" font-size="8.8" fill="#484848" textLength="21.6" lengthAdjust="spacingAndGlyphs">58.86</text>
<text x="577.6" y="336.1" font-size="13" fill="#000" text-anchor="middle" font-weight="bold" font-family="Liberation Serif">(f)</text>
<clipPath id="cg"><rect x="16.8" y="355.5" width="194.4" height="129.9"/></clipPath>
<path d="M16.8 355.5H211.2V485.4" fill="none" stroke="#a8a8a8" stroke-width="1.3"/>
<path d="M16.8 355.5V485.4H211.2" fill="none" stroke="#8c8c8c" stroke-width="1.3"/>
<rect x="60.4" y="363.1" width="17.83" height="122.3" fill="#F6990A" stroke="#9c6008" stroke-width="0.9"/>
<path d="M78.23 485.4H96.07" stroke="#3c3c3c" stroke-width="1.4"/>
<rect x="96.07" y="363.1" width="17.83" height="122.3" fill="#F6990A" stroke="#9c6008" stroke-width="0.9"/>
<path d="M113.9 485.4H131.73" stroke="#3c3c3c" stroke-width="1.4"/>
<rect x="131.73" y="363.1" width="17.83" height="122.3" fill="#F6990A" stroke="#9c6008" stroke-width="0.9"/>
<rect x="149.57" y="363.1" width="17.83" height="122.3" fill="#F6990A" stroke="#9c6008" stroke-width="0.9"/>
<path d="M14.8 485.4H18.6" stroke="#606060" stroke-width="0.9"/>
<text x="12.6" y="489.64" font-size="9" fill="#3a3a3a" text-anchor="end">0</text>
<path d="M14.8 454.82H18.6" stroke="#606060" stroke-width="0.9"/>
<text x="12.6" y="459.06" font-size="9" fill="#3a3a3a" text-anchor="end">5</text>
<path d="M14.8 424.25H18.6" stroke="#606060" stroke-width="0.9"/>
<text x="12.6" y="428.49" font-size="9" fill="#3a3a3a" text-anchor="end">10</text>
<path d="M14.8 393.68H18.6" stroke="#606060" stroke-width="0.9"/>
<text x="12.6" y="397.92" font-size="9" fill="#3a3a3a" text-anchor="end">15</text>
<path d="M14.8 363.1H18.6" stroke="#606060" stroke-width="0.9"/>
<text x="12.6" y="367.34" font-size="9" fill="#3a3a3a" text-anchor="end">20</text>
<path d="M15.6 470.11H18" stroke="#606060" stroke-width="0.9"/>
<path d="M15.6 439.54H18" stroke="#606060" stroke-width="0.9"/>
<path d="M15.6 408.96H18" stroke="#606060" stroke-width="0.9"/>
<path d="M15.6 378.39H18" stroke="#606060" stroke-width="0.9"/>
<path d="M42.57 483.6V487.2" stroke="#606060" stroke-width="0.9"/>
<text x="42.57" y="498.34" font-size="9" fill="#3a3a3a" text-anchor="middle">0</text>
<path d="M78.23 483.6V487.2" stroke="#606060" stroke-width="0.9"/>
<text x="78.23" y="498.34" font-size="9" fill="#3a3a3a" text-anchor="middle">10</text>
<path d="M113.9 483.6V487.2" stroke="#606060" stroke-width="0.9"/>
<text x="113.9" y="498.34" font-size="9" fill="#3a3a3a" text-anchor="middle">20</text>
<path d="M149.57 483.6V487.2" stroke="#606060" stroke-width="0.9"/>
<text x="149.57" y="498.34" font-size="9" fill="#3a3a3a" text-anchor="middle">30</text>
<path d="M185.23 483.6V487.2" stroke="#606060" stroke-width="0.9"/>
<text x="185.23" y="498.34" font-size="9" fill="#3a3a3a" text-anchor="middle">40</text>
<path d="M24.73 484.2V486.6" stroke="#606060" stroke-width="0.9"/>
<path d="M60.4 484.2V486.6" stroke="#606060" stroke-width="0.9"/>
<path d="M96.07 484.2V486.6" stroke="#606060" stroke-width="0.9"/>
<path d="M131.73 484.2V486.6" stroke="#606060" stroke-width="0.9"/>
<path d="M167.4 484.2V486.6" stroke="#606060" stroke-width="0.9"/>
<path d="M203.07 484.2V486.6" stroke="#606060" stroke-width="0.9"/>
<text x="69.32" y="428.7" font-size="9" fill="#5e4614" text-anchor="middle">20</text>
<text x="104.98" y="428.7" font-size="9" fill="#5e4614" text-anchor="middle">20</text>
<text x="140.65" y="428.7" font-size="9" fill="#5e4614" text-anchor="middle">20</text>
<text x="158.48" y="428.7" font-size="9" fill="#5e4614" text-anchor="middle">20</text>
<text x="87.15" y="489.67" font-size="8.2" fill="#606060" text-anchor="middle">0</text>
<text x="122.82" y="489.67" font-size="8.2" fill="#606060" text-anchor="middle">0</text>
<polyline clip-path="url(#cg)" points="16.8,480.76 18.42,480.29 20.04,479.78 21.66,479.22 23.28,478.63 24.9,477.99 26.52,477.3 28.14,476.56 29.76,475.78 31.38,474.93 33,474.04 34.62,473.08 36.24,472.07 37.86,471 39.48,469.87 41.1,468.67 42.72,467.42 44.34,466.1 45.96,464.71 47.58,463.27 49.2,461.76 50.82,460.19 52.44,458.56 54.06,456.87 55.68,455.13 57.3,453.33 58.92,451.47 60.54,449.57 62.16,447.63 63.78,445.64 65.4,443.62 67.02,441.57 68.64,439.49 70.26,437.39 71.88,435.27 73.5,433.15 75.12,431.03 76.74,428.91 78.36,426.81 79.98,424.72 81.6,422.67 83.22,420.65 84.84,418.67 86.46,416.75 88.08,414.88 89.7,413.09 91.32,411.36 92.94,409.72 94.56,408.17 96.18,406.72 97.8,405.37 99.42,404.13 101.04,403 102.66,402 104.28,401.12 105.9,400.37 107.52,399.75 109.14,399.27 110.76,398.93 112.38,398.72 114,398.66 115.62,398.74 117.24,398.96 118.86,399.32 120.48,399.82 122.1,400.45 123.72,401.22 125.34,402.12 126.96,403.14 128.58,404.28 130.2,405.53 131.82,406.89 133.44,408.36 135.06,409.92 136.68,411.57 138.3,413.3 139.92,415.11 141.54,416.98 143.16,418.91 144.78,420.89 146.4,422.92 148.02,424.98 149.64,427.06 151.26,429.17 152.88,431.29 154.5,433.41 156.12,435.53 157.74,437.65 159.36,439.75 160.98,441.82 162.6,443.87 164.22,445.89 165.84,447.87 167.46,449.81 169.08,451.71 170.7,453.55 172.32,455.35 173.94,457.08 175.56,458.77 177.18,460.39 178.8,461.95 180.42,463.45 182.04,464.89 183.66,466.26 185.28,467.58 186.9,468.82 188.52,470.01 190.14,471.14 191.76,472.2 193.38,473.2 195,474.15 196.62,475.04 198.24,475.88 199.86,476.66 201.48,477.39 203.1,478.07 204.72,478.71 206.34,479.29 207.96,479.84 209.58,480.35 211.2,480.82" fill="none" stroke="#dc55dc" stroke-width="1.3"/>
<rect x="20.1" y="357" width="10.5" height="5.1" fill="#F6990A" stroke="#9c6008" stroke-width="0.8"/>
<text x="20.5" y="371.8" font-size="8.8" fill="#383838" font-weight="bold" textLength="30.7" lengthAdjust="spacingAndGlyphs">Tdepth</text>
<text x="19.2" y="381.6" font-size="8.8" fill="#383838" font-weight="bold">(cm)</text>
<text x="168.5" y="363.7" font-size="8.8" fill="#303030" font-weight="bold" textLength="31.9" lengthAdjust="spacingAndGlyphs">Normal</text>
<text x="170.9" y="372.5" font-size="9" fill="#484848">mu</text>
<text x="175.4" y="383.3" font-size="9" fill="#484848" textLength="11.2" lengthAdjust="spacingAndGlyphs">20</text>
<text x="170.9" y="393.7" font-size="9" fill="#484848">sigma</text>
<text x="176.8" y="404.9" font-size="9" fill="#484848" textLength="22.6" lengthAdjust="spacingAndGlyphs">11.25</text>
<path d="M212.2 357.8H213.7" stroke="#bbb" stroke-width="0.8"/>
<path d="M212.2 375.5H213.7" stroke="#bbb" stroke-width="0.8"/>
<path d="M212.2 393.1H213.7" stroke="#bbb" stroke-width="0.8"/>
<text x="106.6" y="511.2" font-size="13" fill="#000" text-anchor="middle" font-weight="bold" font-family="Liberation Serif">(g)</text>
<clipPath id="ch"><rect x="250.9" y="356.2" width="195.2" height="128.3"/></clipPath>
<path d="M250.9 356.2H446.1V484.5" fill="none" stroke="#a8a8a8" stroke-width="1.3"/>
<path d="M250.9 356.2V484.5H446.1" fill="none" stroke="#8c8c8c" stroke-width="1.3"/>
<rect x="261.6" y="448.5" width="14.97" height="36" fill="#F6990A" stroke="#9c6008" stroke-width="0.9"/>
<rect x="276.57" y="448.5" width="14.97" height="36" fill="#F6990A" stroke="#9c6008" stroke-width="0.9"/>
<rect x="291.53" y="412.5" width="14.97" height="72" fill="#F6990A" stroke="#9c6008" stroke-width="0.9"/>
<rect x="306.5" y="376.5" width="14.97" height="108" fill="#F6990A" stroke="#9c6008" stroke-width="0.9"/>
<rect x="321.47" y="376.5" width="14.97" height="108" fill="#F6990A" stroke="#9c6008" stroke-width="0.9"/>
<rect x="336.43" y="376.5" width="14.97" height="108" fill="#F6990A" stroke="#9c6008" stroke-width="0.9"/>
<rect x="351.4" y="376.5" width="14.97" height="108" fill="#F6990A" stroke="#9c6008" stroke-width="0.9"/>
<rect x="366.37" y="412.5" width="14.97" height="72" fill="#F6990A" stroke="#9c6008" stroke-width="0.9"/>
<rect x="381.33" y="448.5" width="14.97" height="36" fill="#F6990A" stroke="#9c6008" stroke-width="0.9"/>
<path d="M396.3 484.5H411.27" stroke="#3c3c3c" stroke-width="1.4"/>
<path d="M411.27 484.5H426.23" stroke="#3c3c3c" stroke-width="1.4"/>
<rect x="426.23" y="448.5" width="14.97" height="36" fill="#F6990A" stroke="#9c6008" stroke-width="0.9"/>
<path d="M248.9 484.5H252.7" stroke="#606060" stroke-width="0.9"/>
<text x="247.8" y="488.74" font-size="9" fill="#3a3a3a" text-anchor="end">0</text>
<path d="M248.9 466.5H252.7" stroke="#606060" stroke-width="0.9"/>
<text x="247.8" y="470.74" font-size="9" fill="#3a3a3a" text-anchor="end">2</text>
<path d="M248.9 448.5H252.7" stroke="#606060" stroke-width="0.9"/>
<text x="247.8" y="452.74" font-size="9" fill="#3a3a3a" text-anchor="end">4</text>
<path d="M248.9 430.5H252.7" stroke="#606060" stroke-width="0.9"/>
<text x="247.8" y="434.74" font-size="9" fill="#3a3a3a" text-anchor="end">6</text>
<path d="M248.9 412.5H252.7" stroke="#606060" stroke-width="0.9"/>
<text x="247.8" y="416.74" font-size="9" fill="#3a3a3a" text-anchor="end">8</text>
<path d="M248.9 394.5H252.7" stroke="#606060" stroke-width="0.9"/>
<text x="247.8" y="398.74" font-size="9" fill="#3a3a3a" text-anchor="end">10</text>
<path d="M248.9 376.5H252.7" stroke="#606060" stroke-width="0.9"/>
<text x="247.8" y="380.74" font-size="9" fill="#3a3a3a" text-anchor="end">12</text>
<path d="M248.9 358.5H252.7" stroke="#606060" stroke-width="0.9"/>
<text x="247.8" y="362.74" font-size="9" fill="#3a3a3a" text-anchor="end">14</text>
<path d="M249.7 475.5H252.1" stroke="#606060" stroke-width="0.9"/>
<path d="M249.7 457.5H252.1" stroke="#606060" stroke-width="0.9"/>
<path d="M249.7 439.5H252.1" stroke="#606060" stroke-width="0.9"/>
<path d="M249.7 421.5H252.1" stroke="#606060" stroke-width="0.9"/>
<path d="M249.7 403.5H252.1" stroke="#606060" stroke-width="0.9"/>
<path d="M249.7 385.5H252.1" stroke="#606060" stroke-width="0.9"/>
<path d="M249.7 367.5H252.1" stroke="#606060" stroke-width="0.9"/>
<path d="M276.57 482.7V486.3" stroke="#606060" stroke-width="0.9"/>
<text x="276.57" y="497.54" font-size="9" fill="#3a3a3a" text-anchor="middle">2.0</text>
<path d="M306.5 482.7V486.3" stroke="#606060" stroke-width="0.9"/>
<text x="306.5" y="497.54" font-size="9" fill="#3a3a3a" text-anchor="middle">2.4</text>
<path d="M336.43 482.7V486.3" stroke="#606060" stroke-width="0.9"/>
<text x="336.43" y="497.54" font-size="9" fill="#3a3a3a" text-anchor="middle">2.8</text>
<path d="M366.37 482.7V486.3" stroke="#606060" stroke-width="0.9"/>
<text x="366.37" y="497.54" font-size="9" fill="#3a3a3a" text-anchor="middle">3.2</text>
<path d="M396.3 482.7V486.3" stroke="#606060" stroke-width="0.9"/>
<text x="396.3" y="497.54" font-size="9" fill="#3a3a3a" text-anchor="middle">3.6</text>
<path d="M426.23 482.7V486.3" stroke="#606060" stroke-width="0.9"/>
<text x="426.23" y="497.54" font-size="9" fill="#3a3a3a" text-anchor="middle">4.0</text>
<path d="M261.6 483.3V485.7" stroke="#606060" stroke-width="0.9"/>
<path d="M291.53 483.3V485.7" stroke="#606060" stroke-width="0.9"/>
<path d="M321.47 483.3V485.7" stroke="#606060" stroke-width="0.9"/>
<path d="M351.4 483.3V485.7" stroke="#606060" stroke-width="0.9"/>
<path d="M381.33 483.3V485.7" stroke="#606060" stroke-width="0.9"/>
<path d="M411.27 483.3V485.7" stroke="#606060" stroke-width="0.9"/>
<path d="M441.2 483.3V485.7" stroke="#606060" stroke-width="0.9"/>
<text x="269.08" y="470.25" font-size="7" fill="#5e4614" text-anchor="middle">4</text>
<text x="284.05" y="470.25" font-size="7" fill="#5e4614" text-anchor="middle">4</text>
<text x="299.02" y="452.25" font-size="7" fill="#5e4614" text-anchor="middle">8</text>
<text x="313.98" y="434.25" font-size="7" fill="#5e4614" text-anchor="middle">12</text>
<text x="328.95" y="434.25" font-size="7" fill="#5e4614" text-anchor="middle">12</text>
<text x="343.92" y="434.25" font-size="7" fill="#5e4614" text-anchor="middle">12</text>
<text x="358.88" y="434.25" font-size="7" fill="#5e4614" text-anchor="middle">12</text>
<text x="373.85" y="452.25" font-size="7" fill="#5e4614" text-anchor="middle">8</text>
<text x="388.82" y="470.25" font-size="7" fill="#5e4614" text-anchor="middle">4</text>
<text x="433.72" y="470.25" font-size="7" fill="#5e4614" text-anchor="middle">4</text>
<text x="403.78" y="488.56" font-size="7.6" fill="#606060" text-anchor="middle">0</text>
<text x="418.75" y="488.56" font-size="7.6" fill="#606060" text-anchor="middle">0</text>
<polyline clip-path="url(#ch)" points="250.9,477.98 252.53,477.23 254.15,476.42 255.78,475.53 257.41,474.56 259.03,473.51 260.66,472.38 262.29,471.16 263.91,469.84 265.54,468.43 267.17,466.91 268.79,465.3 270.42,463.58 272.05,461.75 273.67,459.81 275.3,457.77 276.93,455.61 278.55,453.34 280.18,450.97 281.81,448.48 283.43,445.9 285.06,443.21 286.69,440.43 288.31,437.55 289.94,434.59 291.57,431.56 293.19,428.45 294.82,425.28 296.45,422.07 298.07,418.81 299.7,415.53 301.33,412.23 302.95,408.93 304.58,405.65 306.21,402.38 307.83,399.16 309.46,396 311.09,392.91 312.71,389.9 314.34,387 315.97,384.21 317.59,381.56 319.22,379.05 320.85,376.71 322.47,374.54 324.1,372.55 325.73,370.77 327.35,369.19 328.98,367.84 330.61,366.71 332.23,365.81 333.86,365.15 335.49,364.74 337.11,364.57 338.74,364.65 340.37,364.98 341.99,365.55 343.62,366.36 345.25,367.4 346.87,368.68 348.5,370.18 350.13,371.89 351.75,373.8 353.38,375.9 355.01,378.19 356.63,380.64 358.26,383.24 359.89,385.98 361.51,388.84 363.14,391.81 364.77,394.88 366.39,398.02 368.02,401.22 369.65,404.47 371.27,407.75 372.9,411.04 374.53,414.34 376.15,417.63 377.78,420.9 379.41,424.13 381.03,427.32 382.66,430.45 384.29,433.51 385.91,436.5 387.54,439.4 389.17,442.22 390.79,444.94 392.42,447.56 394.05,450.08 395.67,452.5 397.3,454.81 398.93,457 400.55,459.09 402.18,461.07 403.81,462.93 405.43,464.69 407.06,466.35 408.69,467.89 410.31,469.34 411.94,470.69 413.57,471.95 415.19,473.12 416.82,474.19 418.45,475.19 420.07,476.11 421.7,476.95 423.33,477.72 424.95,478.42 426.58,479.07 428.21,479.65 429.83,480.18 431.46,480.66 433.09,481.1 434.71,481.49 436.34,481.84 437.97,482.16 439.59,482.44 441.22,482.69 442.85,482.92 444.47,483.11 446.1,483.29" fill="none" stroke="#dc55dc" stroke-width="1.3"/>
<rect x="253.9" y="358.4" width="9.3" height="4.7" fill="#F6990A" stroke="#9c6008" stroke-width="0.8"/>
<text x="264.4" y="365.4" font-size="8.8" fill="#383838" font-weight="bold" textLength="32.4" lengthAdjust="spacingAndGlyphs">FRr(kN)</text>
<text x="382.8" y="365.6" font-size="8.8" fill="#303030" font-weight="bold" textLength="30.9" lengthAdjust="spacingAndGlyphs">Normal</text>
<text x="382.8" y="373.5" font-size="9.1" fill="#484848">mu</text>
<text x="442.2" y="373.5" font-size="9.1" fill="#484848" text-anchor="end">2.813</text>
<text x="382.8" y="383.9" font-size="9.1" fill="#484848">sigma</text>
<text x="442.2" y="383.9" font-size="9.1" fill="#484848" text-anchor="end">0.4790</text>
<text x="341.6" y="510.1" font-size="13" fill="#000" text-anchor="middle" font-weight="bold" font-family="Liberation Serif">(h)</text>
<clipPath id="ci"><rect x="486.5" y="357.1" width="193.4" height="128.2"/></clipPath>
<path d="M486.5 357.1H679.9V485.3" fill="none" stroke="#a8a8a8" stroke-width="1.3"/>
<path d="M486.5 357.1V485.3H679.9" fill="none" stroke="#8c8c8c" stroke-width="1.3"/>
<path d="M512.29 485.3H526.3" stroke="#3c3c3c" stroke-width="1.4"/>
<rect x="526.3" y="364.5" width="14.01" height="120.8" fill="#F6990A" stroke="#9c6008" stroke-width="0.9"/>
<path d="M540.31 485.3H554.32" stroke="#3c3c3c" stroke-width="1.4"/>
<path d="M554.32 485.3H568.33" stroke="#3c3c3c" stroke-width="1.4"/>
<rect x="568.33" y="364.5" width="14.01" height="120.8" fill="#F6990A" stroke="#9c6008" stroke-width="0.9"/>
<rect x="582.34" y="364.5" width="14.01" height="120.8" fill="#F6990A" stroke="#9c6008" stroke-width="0.9"/>
<path d="M596.36 485.3H610.37" stroke="#3c3c3c" stroke-width="1.4"/>
<path d="M610.37 485.3H624.38" stroke="#3c3c3c" stroke-width="1.4"/>
<path d="M624.38 485.3H638.39" stroke="#3c3c3c" stroke-width="1.4"/>
<rect x="638.39" y="364.5" width="14.01" height="120.8" fill="#F6990A" stroke="#9c6008" stroke-width="0.9"/>
<path d="M484.5 485.3H488.3" stroke="#606060" stroke-width="0.9"/>
<text x="483" y="489.54" font-size="9" fill="#3a3a3a" text-anchor="end">0</text>
<path d="M484.5 455.1H488.3" stroke="#606060" stroke-width="0.9"/>
<text x="483" y="459.34" font-size="9" fill="#3a3a3a" text-anchor="end">5</text>
<path d="M484.5 424.9H488.3" stroke="#606060" stroke-width="0.9"/>
<text x="483" y="429.14" font-size="9" fill="#3a3a3a" text-anchor="end">10</text>
<path d="M484.5 394.7H488.3" stroke="#606060" stroke-width="0.9"/>
<text x="483" y="398.94" font-size="9" fill="#3a3a3a" text-anchor="end">15</text>
<path d="M484.5 364.5H488.3" stroke="#606060" stroke-width="0.9"/>
<text x="483" y="368.74" font-size="9" fill="#3a3a3a" text-anchor="end">20</text>
<path d="M485.3 470.2H487.7" stroke="#606060" stroke-width="0.9"/>
<path d="M485.3 440H487.7" stroke="#606060" stroke-width="0.9"/>
<path d="M485.3 409.8H487.7" stroke="#606060" stroke-width="0.9"/>
<path d="M485.3 379.6H487.7" stroke="#606060" stroke-width="0.9"/>
<path d="M491.27 483.5V487.1" stroke="#606060" stroke-width="0.9"/>
<text x="491.27" y="498.04" font-size="9" fill="#3a3a3a" text-anchor="middle">15</text>
<path d="M519.29 483.5V487.1" stroke="#606060" stroke-width="0.9"/>
<text x="519.29" y="498.04" font-size="9" fill="#3a3a3a" text-anchor="middle">18</text>
<path d="M547.32 483.5V487.1" stroke="#606060" stroke-width="0.9"/>
<text x="547.32" y="498.04" font-size="9" fill="#3a3a3a" text-anchor="middle">21</text>
<path d="M575.34 483.5V487.1" stroke="#606060" stroke-width="0.9"/>
<text x="575.34" y="498.04" font-size="9" fill="#3a3a3a" text-anchor="middle">24</text>
<path d="M603.36 483.5V487.1" stroke="#606060" stroke-width="0.9"/>
<text x="603.36" y="498.04" font-size="9" fill="#3a3a3a" text-anchor="middle">27</text>
<path d="M631.38 483.5V487.1" stroke="#606060" stroke-width="0.9"/>
<text x="631.38" y="498.04" font-size="9" fill="#3a3a3a" text-anchor="middle">30</text>
<path d="M659.41 483.5V487.1" stroke="#606060" stroke-width="0.9"/>
<text x="659.41" y="498.04" font-size="9" fill="#3a3a3a" text-anchor="middle">33</text>
<path d="M505.28 484.1V486.5" stroke="#606060" stroke-width="0.9"/>
<path d="M533.31 484.1V486.5" stroke="#606060" stroke-width="0.9"/>
<path d="M561.33 484.1V486.5" stroke="#606060" stroke-width="0.9"/>
<path d="M589.35 484.1V486.5" stroke="#606060" stroke-width="0.9"/>
<path d="M617.37 484.1V486.5" stroke="#606060" stroke-width="0.9"/>
<path d="M645.39 484.1V486.5" stroke="#606060" stroke-width="0.9"/>
<path d="M673.42 484.1V486.5" stroke="#606060" stroke-width="0.9"/>
<text x="533.31" y="429.35" font-size="9" fill="#5e4614" text-anchor="middle">20</text>
<text x="575.34" y="429.35" font-size="9" fill="#5e4614" text-anchor="middle">20</text>
<text x="589.35" y="429.35" font-size="9" fill="#5e4614" text-anchor="middle">20</text>
<text x="645.39" y="429.35" font-size="9" fill="#5e4614" text-anchor="middle">20</text>
<text x="547.32" y="489.57" font-size="8.2" fill="#606060" text-anchor="middle">0</text>
<text x="561.33" y="489.57" font-size="8.2" fill="#606060" text-anchor="middle">0</text>
<text x="617.37" y="489.57" font-size="8.2" fill="#606060" text-anchor="middle">0</text>
<text x="631.38" y="489.57" font-size="8.2" fill="#606060" text-anchor="middle">0</text>
<polyline clip-path="url(#ci)" points="486.5,481.71 488.11,481.35 489.72,480.96 491.33,480.53 492.95,480.08 494.56,479.59 496.17,479.06 497.78,478.49 499.39,477.89 501,477.24 502.62,476.56 504.23,475.83 505.84,475.05 507.45,474.23 509.06,473.36 510.68,472.45 512.29,471.49 513.9,470.48 515.51,469.42 517.12,468.31 518.73,467.16 520.35,465.95 521.96,464.7 523.57,463.41 525.18,462.07 526.79,460.69 528.4,459.27 530.01,457.82 531.63,456.32 533.24,454.8 534.85,453.25 536.46,451.67 538.07,450.07 539.68,448.46 541.3,446.83 542.91,445.2 544.52,443.56 546.13,441.93 547.74,440.3 549.36,438.69 550.97,437.1 552.58,435.54 554.19,434 555.8,432.51 557.41,431.06 559.02,429.66 560.64,428.31 562.25,427.03 563.86,425.81 565.47,424.67 567.08,423.6 568.69,422.61 570.31,421.72 571.92,420.91 573.53,420.2 575.14,419.58 576.75,419.07 578.37,418.66 579.98,418.35 581.59,418.15 583.2,418.06 584.81,418.08 586.42,418.2 588.03,418.44 589.65,418.78 591.26,419.22 592.87,419.77 594.48,420.41 596.09,421.16 597.7,422 599.32,422.92 600.93,423.94 602.54,425.03 604.15,426.2 605.76,427.44 607.38,428.74 608.99,430.1 610.6,431.52 612.21,432.99 613.82,434.5 615.43,436.04 617.04,437.61 618.66,439.21 620.27,440.83 621.88,442.45 623.49,444.09 625.1,445.72 626.72,447.36 628.33,448.98 629.94,450.59 631.55,452.18 633.16,453.75 634.77,455.3 636.38,456.81 638,458.29 639.61,459.74 641.22,461.14 642.83,462.51 644.44,463.83 646.05,465.11 647.67,466.35 649.28,467.53 650.89,468.67 652.5,469.76 654.11,470.81 655.72,471.8 657.34,472.75 658.95,473.65 660.56,474.5 662.17,475.31 663.78,476.07 665.39,476.78 667.01,477.46 668.62,478.09 670.23,478.68 671.84,479.23 673.45,479.75 675.06,480.23 676.68,480.67 678.29,481.09 679.9,481.47" fill="none" stroke="#dc55dc" stroke-width="1.3"/>
<rect x="488.8" y="358.4" width="8.2" height="4.2" fill="#F6990A" stroke="#9c6008" stroke-width="0.8"/>
<text x="497.9" y="363.7" font-size="8.8" fill="#383838" font-weight="bold" textLength="29.3" lengthAdjust="spacingAndGlyphs">τShear</text>
<text x="497.6" y="374.5" font-size="8.8" fill="#383838" font-weight="bold" textLength="23.1" lengthAdjust="spacingAndGlyphs">(kPa)</text>
<text x="600.4" y="364.1" font-size="8.8" fill="#303030" font-weight="bold" textLength="31.4" lengthAdjust="spacingAndGlyphs">Normal</text>
<text x="600.4" y="371.5" font-size="9.1" fill="#484848">mu</text>
<text x="605.3" y="383.3" font-size="9.1" fill="#484848" textLength="18" lengthAdjust="spacingAndGlyphs">24.9</text>
<text x="600.4" y="393.1" font-size="9.1" fill="#484848">sigma</text>
<text x="605.3" y="404.6" font-size="9.1" fill="#484848" textLength="12.7" lengthAdjust="spacingAndGlyphs">4.3</text>
<text x="577.2" y="511.3" font-size="13" fill="#000" text-anchor="middle" font-weight="bold" font-family="Liberation Serif">(i)</text>
<clipPath id="cj"><rect x="13.9" y="532.4" width="196.5" height="130.6"/></clipPath>
<path d="M13.9 532.4H210.4V663" fill="none" stroke="#a8a8a8" stroke-width="1.3"/>
<path d="M13.9 532.4V663H210.4" fill="none" stroke="#8c8c8c" stroke-width="1.3"/>
<rect x="55.4" y="540" width="11.39" height="123" fill="#F6990A" stroke="#9c6008" stroke-width="0.9"/>
<path d="M66.79 663H78.18" stroke="#3c3c3c" stroke-width="1.4"/>
<path d="M78.18 663H89.57" stroke="#3c3c3c" stroke-width="1.4"/>
<rect x="89.57" y="540" width="11.39" height="123" fill="#F6990A" stroke="#9c6008" stroke-width="0.9"/>
<rect x="100.96" y="540" width="11.39" height="123" fill="#F6990A" stroke="#9c6008" stroke-width="0.9"/>
<path d="M112.35 663H123.75" stroke="#3c3c3c" stroke-width="1.4"/>
<path d="M123.75 663H135.14" stroke="#3c3c3c" stroke-width="1.4"/>
<path d="M135.14 663H146.53" stroke="#3c3c3c" stroke-width="1.4"/>
<path d="M146.53 663H157.92" stroke="#3c3c3c" stroke-width="1.4"/>
<path d="M157.92 663H169.31" stroke="#3c3c3c" stroke-width="1.4"/>
<rect x="169.31" y="540" width="11.39" height="123" fill="#F6990A" stroke="#9c6008" stroke-width="0.9"/>
<path d="M11.9 663H15.7" stroke="#606060" stroke-width="0.9"/>
<text x="11.4" y="666.56" font-size="7.1" fill="#3a3a3a" text-anchor="end">0</text>
<path d="M11.9 632.25H15.7" stroke="#606060" stroke-width="0.9"/>
<text x="11.4" y="635.81" font-size="7.1" fill="#3a3a3a" text-anchor="end">5</text>
<path d="M11.9 601.5H15.7" stroke="#606060" stroke-width="0.9"/>
<text x="11.4" y="605.06" font-size="7.1" fill="#3a3a3a" text-anchor="end">10</text>
<path d="M11.9 570.75H15.7" stroke="#606060" stroke-width="0.9"/>
<text x="11.4" y="574.31" font-size="7.1" fill="#3a3a3a" text-anchor="end">15</text>
<path d="M11.9 540H15.7" stroke="#606060" stroke-width="0.9"/>
<text x="11.4" y="543.56" font-size="7.1" fill="#3a3a3a" text-anchor="end">20</text>
<path d="M12.7 647.62H15.1" stroke="#606060" stroke-width="0.9"/>
<path d="M12.7 616.88H15.1" stroke="#606060" stroke-width="0.9"/>
<path d="M12.7 586.12H15.1" stroke="#606060" stroke-width="0.9"/>
<path d="M12.7 555.38H15.1" stroke="#606060" stroke-width="0.9"/>
<path d="M21.23 661.2V664.8" stroke="#606060" stroke-width="0.9"/>
<text x="21.23" y="672.56" font-size="7.1" fill="#3a3a3a" text-anchor="middle">11.74</text>
<path d="M55.4 661.2V664.8" stroke="#606060" stroke-width="0.9"/>
<text x="55.4" y="672.56" font-size="7.1" fill="#3a3a3a" text-anchor="middle">12.10</text>
<path d="M89.57 661.2V664.8" stroke="#606060" stroke-width="0.9"/>
<text x="89.57" y="672.56" font-size="7.1" fill="#3a3a3a" text-anchor="middle">12.46</text>
<path d="M123.75 661.2V664.8" stroke="#606060" stroke-width="0.9"/>
<text x="123.75" y="672.56" font-size="7.1" fill="#3a3a3a" text-anchor="middle">12.82</text>
<path d="M157.92 661.2V664.8" stroke="#606060" stroke-width="0.9"/>
<text x="157.92" y="672.56" font-size="7.1" fill="#3a3a3a" text-anchor="middle">13.18</text>
<path d="M192.09 661.2V664.8" stroke="#606060" stroke-width="0.9"/>
<text x="192.09" y="672.56" font-size="7.1" fill="#3a3a3a" text-anchor="middle">13.54</text>
<path d="M38.31 661.8V664.2" stroke="#606060" stroke-width="0.9"/>
<path d="M72.49 661.8V664.2" stroke="#606060" stroke-width="0.9"/>
<path d="M106.66 661.8V664.2" stroke="#606060" stroke-width="0.9"/>
<path d="M140.83 661.8V664.2" stroke="#606060" stroke-width="0.9"/>
<path d="M175 661.8V664.2" stroke="#606060" stroke-width="0.9"/>
<path d="M209.18 661.8V664.2" stroke="#606060" stroke-width="0.9"/>
<text x="61.1" y="605.95" font-size="9" fill="#5e4614" text-anchor="middle">20</text>
<text x="95.27" y="605.95" font-size="9" fill="#5e4614" text-anchor="middle">20</text>
<text x="106.66" y="605.95" font-size="9" fill="#5e4614" text-anchor="middle">20</text>
<text x="175" y="605.95" font-size="9" fill="#5e4614" text-anchor="middle">20</text>
<text x="72.49" y="667.48" font-size="8.8" fill="#606060" text-anchor="middle">0</text>
<text x="83.88" y="667.48" font-size="8.8" fill="#606060" text-anchor="middle">0</text>
<text x="129.44" y="667.48" font-size="8.8" fill="#606060" text-anchor="middle">0</text>
<text x="140.83" y="667.48" font-size="8.8" fill="#606060" text-anchor="middle">0</text>
<text x="152.22" y="667.48" font-size="8.8" fill="#606060" text-anchor="middle">0</text>
<text x="163.61" y="667.48" font-size="8.8" fill="#606060" text-anchor="middle">0</text>
<polyline clip-path="url(#cj)" points="13.9,659.99 15.54,659.68 17.18,659.36 18.81,659 20.45,658.62 22.09,658.22 23.73,657.78 25.36,657.31 27,656.81 28.64,656.27 30.27,655.71 31.91,655.1 33.55,654.46 35.19,653.78 36.83,653.07 38.46,652.31 40.1,651.52 41.74,650.69 43.38,649.82 45.01,648.91 46.65,647.96 48.29,646.98 49.92,645.95 51.56,644.89 53.2,643.8 54.84,642.67 56.48,641.51 58.11,640.32 59.75,639.1 61.39,637.85 63.02,636.59 64.66,635.3 66.3,634 67.94,632.69 69.58,631.37 71.21,630.04 72.85,628.71 74.49,627.39 76.12,626.07 77.76,624.77 79.4,623.49 81.04,622.22 82.68,620.99 84.31,619.78 85.95,618.61 87.59,617.49 89.23,616.41 90.86,615.38 92.5,614.4 94.14,613.49 95.78,612.64 97.41,611.86 99.05,611.14 100.69,610.51 102.33,609.95 103.96,609.47 105.6,609.07 107.24,608.75 108.88,608.52 110.51,608.38 112.15,608.33 113.79,608.36 115.43,608.48 117.06,608.69 118.7,608.98 120.34,609.36 121.98,609.82 123.61,610.36 125.25,610.98 126.89,611.67 128.53,612.44 130.16,613.27 131.8,614.17 133.44,615.13 135.07,616.15 136.71,617.21 138.35,618.33 139.99,619.49 141.62,620.68 143.26,621.91 144.9,623.17 146.54,624.45 148.18,625.75 149.81,627.06 151.45,628.38 153.09,629.71 154.72,631.04 156.36,632.36 158,633.68 159.64,634.98 161.28,636.27 162.91,637.54 164.55,638.79 166.19,640.01 167.83,641.21 169.46,642.38 171.1,643.52 172.74,644.62 174.38,645.69 176.01,646.72 177.65,647.72 179.29,648.68 180.93,649.6 182.56,650.48 184.2,651.32 185.84,652.12 187.47,652.88 189.11,653.61 190.75,654.3 192.39,654.95 194.03,655.56 195.66,656.14 197.3,656.68 198.94,657.19 200.58,657.66 202.21,658.11 203.85,658.53 205.49,658.91 207.12,659.27 208.76,659.6 210.4,659.91" fill="none" stroke="#dc55dc" stroke-width="1.3"/>
<rect x="15.9" y="535.1" width="7.6" height="3.7" fill="#F6990A" stroke="#9c6008" stroke-width="0.8"/>
<text x="24.3" y="541" font-size="8.8" fill="#383838" font-weight="bold" textLength="21.4" lengthAdjust="spacingAndGlyphs">θSoil</text>
<text x="24.7" y="551.6" font-size="8.8" fill="#383838" font-weight="bold" textLength="13.9" lengthAdjust="spacingAndGlyphs">(%)</text>
<text x="120.1" y="540.7" font-size="8.8" fill="#303030" font-weight="bold" textLength="31.3" lengthAdjust="spacingAndGlyphs">Normal</text>
<text x="115.7" y="549.4" font-size="9.2" fill="#484848">mu</text>
<text x="121.1" y="560.6" font-size="9.2" fill="#484848" textLength="22.2" lengthAdjust="spacingAndGlyphs">12.70</text>
<text x="115.7" y="570.7" font-size="9.2" fill="#484848">sigma</text>
<text x="121.1" y="581.3" font-size="9.2" fill="#484848" textLength="27.7" lengthAdjust="spacingAndGlyphs">0.4308</text>
<text x="212.6" y="543.5" font-size="9" fill="#333" text-anchor="middle">:</text>
<path d="M211.4 569.5H212.9" stroke="#bbb" stroke-width="0.8"/>
<path d="M211.4 599.8H212.9" stroke="#bbb" stroke-width="0.8"/>
<text x="106.6" y="687.5" font-size="13" fill="#000" text-anchor="middle" font-family="Liberation Serif">(j)</text>
<clipPath id="ck"><rect x="252.4" y="530.8" width="186" height="129.5"/></clipPath>
<path d="M252.4 530.8H438.4V660.3" fill="none" stroke="#a8a8a8" stroke-width="1.3"/>
<path d="M252.4 530.8V660.3H438.4" fill="none" stroke="#8c8c8c" stroke-width="1.3"/>
<rect x="265.8" y="538.4" width="13.28" height="121.9" fill="#F6990A" stroke="#9c6008" stroke-width="0.9"/>
<path d="M279.08 660.3H292.36" stroke="#3c3c3c" stroke-width="1.4"/>
<path d="M292.36 660.3H305.64" stroke="#3c3c3c" stroke-width="1.4"/>
<path d="M305.64 660.3H318.92" stroke="#3c3c3c" stroke-width="1.4"/>
<path d="M318.92 660.3H332.2" stroke="#3c3c3c" stroke-width="1.4"/>
<rect x="332.2" y="538.4" width="13.28" height="121.9" fill="#F6990A" stroke="#9c6008" stroke-width="0.9"/>
<rect x="345.48" y="538.4" width="13.28" height="121.9" fill="#F6990A" stroke="#9c6008" stroke-width="0.9"/>
<path d="M358.76 660.3H372.04" stroke="#3c3c3c" stroke-width="1.4"/>
<path d="M372.04 660.3H385.32" stroke="#3c3c3c" stroke-width="1.4"/>
<rect x="385.32" y="538.4" width="13.28" height="121.9" fill="#F6990A" stroke="#9c6008" stroke-width="0.9"/>
<path d="M250.4 660.1H254.2" stroke="#606060" stroke-width="0.9"/>
<text x="248.7" y="664.34" font-size="9" fill="#3a3a3a" text-anchor="end">0</text>
<path d="M250.4 629.67H254.2" stroke="#606060" stroke-width="0.9"/>
<text x="248.7" y="633.91" font-size="9" fill="#3a3a3a" text-anchor="end">5</text>
<path d="M250.4 599.25H254.2" stroke="#606060" stroke-width="0.9"/>
<text x="248.7" y="603.49" font-size="9" fill="#3a3a3a" text-anchor="end">10</text>
<path d="M250.4 568.83H254.2" stroke="#606060" stroke-width="0.9"/>
<text x="248.7" y="573.07" font-size="9" fill="#3a3a3a" text-anchor="end">15</text>
<path d="M250.4 538.4H254.2" stroke="#606060" stroke-width="0.9"/>
<text x="248.7" y="542.64" font-size="9" fill="#3a3a3a" text-anchor="end">20</text>
<path d="M251.2 644.89H253.6" stroke="#606060" stroke-width="0.9"/>
<path d="M251.2 614.46H253.6" stroke="#606060" stroke-width="0.9"/>
<path d="M251.2 584.04H253.6" stroke="#606060" stroke-width="0.9"/>
<path d="M251.2 553.61H253.6" stroke="#606060" stroke-width="0.9"/>
<path d="M252.52 658.5V662.1" stroke="#606060" stroke-width="0.9"/>
<text x="252.52" y="672.34" font-size="9" fill="#3a3a3a" text-anchor="middle">0.12</text>
<path d="M279.08 658.5V662.1" stroke="#606060" stroke-width="0.9"/>
<text x="279.08" y="672.34" font-size="9" fill="#3a3a3a" text-anchor="middle">0.14</text>
<path d="M305.64 658.5V662.1" stroke="#606060" stroke-width="0.9"/>
<text x="305.64" y="672.34" font-size="9" fill="#3a3a3a" text-anchor="middle">0.16</text>
<path d="M332.2 658.5V662.1" stroke="#606060" stroke-width="0.9"/>
<text x="332.2" y="672.34" font-size="9" fill="#3a3a3a" text-anchor="middle">0.18</text>
<path d="M358.76 658.5V662.1" stroke="#606060" stroke-width="0.9"/>
<text x="358.76" y="672.34" font-size="9" fill="#3a3a3a" text-anchor="middle">0.20</text>
<path d="M385.32 658.5V662.1" stroke="#606060" stroke-width="0.9"/>
<text x="385.32" y="672.34" font-size="9" fill="#3a3a3a" text-anchor="middle">0.22</text>
<path d="M411.88 658.5V662.1" stroke="#606060" stroke-width="0.9"/>
<text x="411.88" y="672.34" font-size="9" fill="#3a3a3a" text-anchor="middle">0.24</text>
<path d="M438.44 658.5V662.1" stroke="#606060" stroke-width="0.9"/>
<text x="438.44" y="672.34" font-size="9" fill="#3a3a3a" text-anchor="middle">0.26</text>
<path d="M265.8 659.1V661.5" stroke="#606060" stroke-width="0.9"/>
<path d="M292.36 659.1V661.5" stroke="#606060" stroke-width="0.9"/>
<path d="M318.92 659.1V661.5" stroke="#606060" stroke-width="0.9"/>
<path d="M345.48 659.1V661.5" stroke="#606060" stroke-width="0.9"/>
<path d="M372.04 659.1V661.5" stroke="#606060" stroke-width="0.9"/>
<path d="M398.6 659.1V661.5" stroke="#606060" stroke-width="0.9"/>
<path d="M425.16 659.1V661.5" stroke="#606060" stroke-width="0.9"/>
<text x="272.44" y="603.8" font-size="9" fill="#5e4614" text-anchor="middle">20</text>
<text x="338.84" y="603.8" font-size="9" fill="#5e4614" text-anchor="middle">20</text>
<text x="352.12" y="603.8" font-size="9" fill="#5e4614" text-anchor="middle">20</text>
<text x="391.96" y="603.8" font-size="9" fill="#5e4614" text-anchor="middle">20</text>
<text x="285.72" y="664.78" font-size="8.8" fill="#606060" text-anchor="middle">0</text>
<text x="299" y="664.78" font-size="8.8" fill="#606060" text-anchor="middle">0</text>
<text x="312.28" y="664.78" font-size="8.8" fill="#606060" text-anchor="middle">0</text>
<text x="325.56" y="664.78" font-size="8.8" fill="#606060" text-anchor="middle">0</text>
<text x="365.4" y="664.78" font-size="8.8" fill="#606060" text-anchor="middle">0</text>
<text x="378.68" y="664.78" font-size="8.8" fill="#606060" text-anchor="middle">0</text>
<polyline clip-path="url(#ck)" points="252.4,650.45 253.95,649.82 255.5,649.17 257.05,648.48 258.6,647.77 260.15,647.03 261.7,646.26 263.25,645.46 264.8,644.63 266.35,643.78 267.9,642.89 269.45,641.98 271,641.05 272.55,640.09 274.1,639.1 275.65,638.09 277.2,637.06 278.75,636.01 280.3,634.94 281.85,633.85 283.4,632.74 284.95,631.63 286.5,630.5 288.05,629.36 289.6,628.21 291.15,627.06 292.7,625.9 294.25,624.75 295.8,623.6 297.35,622.45 298.9,621.31 300.45,620.19 302,619.07 303.55,617.98 305.1,616.9 306.65,615.85 308.2,614.83 309.75,613.83 311.3,612.87 312.85,611.94 314.4,611.05 315.95,610.2 317.5,609.39 319.05,608.63 320.6,607.92 322.15,607.26 323.7,606.65 325.25,606.09 326.8,605.6 328.35,605.16 329.9,604.78 331.45,604.46 333,604.2 334.55,604.01 336.1,603.88 337.65,603.82 339.2,603.82 340.75,603.88 342.3,604.01 343.85,604.2 345.4,604.45 346.95,604.77 348.5,605.15 350.05,605.59 351.6,606.08 353.15,606.64 354.7,607.24 356.25,607.9 357.8,608.62 359.35,609.38 360.9,610.18 362.45,611.03 364,611.92 365.55,612.85 367.1,613.81 368.65,614.81 370.2,615.83 371.75,616.88 373.3,617.96 374.85,619.05 376.4,620.16 377.95,621.29 379.5,622.43 381.05,623.57 382.6,624.72 384.15,625.88 385.7,627.03 387.25,628.18 388.8,629.33 390.35,630.47 391.9,631.6 393.45,632.72 395,633.83 396.55,634.91 398.1,635.99 399.65,637.04 401.2,638.07 402.75,639.08 404.3,640.07 405.85,641.03 407.4,641.96 408.95,642.88 410.5,643.76 412.05,644.61 413.6,645.44 415.15,646.24 416.7,647.01 418.25,647.75 419.8,648.47 421.35,649.15 422.9,649.81 424.45,650.44 426,651.04 427.55,651.61 429.1,652.15 430.65,652.67 432.2,653.16 433.75,653.63 435.3,654.08 436.85,654.49 438.4,654.89" fill="none" stroke="#dc55dc" stroke-width="1.3"/>
<rect x="280.2" y="532.6" width="11.4" height="4.9" fill="#F6990A" stroke="#9c6008" stroke-width="0.8"/>
<text x="293.6" y="538.7" font-size="9.2" fill="#202020" textLength="20.4" lengthAdjust="spacingAndGlyphs">γSoil</text>
<text x="293" y="549.2" font-size="9.2" fill="#202020" textLength="30.6" lengthAdjust="spacingAndGlyphs">(g/cm3)</text>
<text x="401" y="540.7" font-size="8.8" fill="#303030" font-weight="bold" textLength="29.9" lengthAdjust="spacingAndGlyphs">Normal</text>
<text x="401" y="548.2" font-size="9.1" fill="#484848">mu</text>
<text x="405.7" y="559.2" font-size="9.1" fill="#484848" textLength="26.8" lengthAdjust="spacingAndGlyphs">0.1845</text>
<text x="401" y="570.1" font-size="9.1" fill="#484848">sigma</text>
<text x="405.7" y="580.4" font-size="9.1" fill="#484848" textLength="21.2" lengthAdjust="spacingAndGlyphs">0.031</text>
<text x="342.3" y="687.7" font-size="13" fill="#000" text-anchor="middle" font-weight="bold" font-family="Liberation Serif">(k)</text>
<clipPath id="cl"><rect x="487.4" y="531.3" width="193.4" height="129"/></clipPath>
<path d="M487.4 531.3H680.8V660.3" fill="none" stroke="#a8a8a8" stroke-width="1.3"/>
<path d="M487.4 531.3V660.3H680.8" fill="none" stroke="#8c8c8c" stroke-width="1.3"/>
<rect x="523.1" y="539.1" width="10.05" height="121.2" fill="#F6990A" stroke="#9c6008" stroke-width="0.9"/>
<path d="M533.15 660.3H543.21" stroke="#3c3c3c" stroke-width="1.4"/>
<path d="M543.21 660.3H553.26" stroke="#3c3c3c" stroke-width="1.4"/>
<path d="M553.26 660.3H563.32" stroke="#3c3c3c" stroke-width="1.4"/>
<rect x="563.32" y="539.1" width="10.05" height="121.2" fill="#F6990A" stroke="#9c6008" stroke-width="0.9"/>
<path d="M573.37 660.3H583.43" stroke="#3c3c3c" stroke-width="1.4"/>
<path d="M583.43 660.3H593.48" stroke="#3c3c3c" stroke-width="1.4"/>
<path d="M593.48 660.3H603.54" stroke="#3c3c3c" stroke-width="1.4"/>
<rect x="603.54" y="539.1" width="10.05" height="121.2" fill="#F6990A" stroke="#9c6008" stroke-width="0.9"/>
<path d="M613.59 660.3H623.65" stroke="#3c3c3c" stroke-width="1.4"/>
<rect x="623.65" y="539.1" width="10.05" height="121.2" fill="#F6990A" stroke="#9c6008" stroke-width="0.9"/>
<path d="M485.4 660.3H489.2" stroke="#606060" stroke-width="0.9"/>
<text x="483.4" y="664.54" font-size="9" fill="#3a3a3a" text-anchor="end">0</text>
<path d="M485.4 630H489.2" stroke="#606060" stroke-width="0.9"/>
<text x="483.4" y="634.24" font-size="9" fill="#3a3a3a" text-anchor="end">5</text>
<path d="M485.4 599.7H489.2" stroke="#606060" stroke-width="0.9"/>
<text x="483.4" y="603.94" font-size="9" fill="#3a3a3a" text-anchor="end">10</text>
<path d="M485.4 569.4H489.2" stroke="#606060" stroke-width="0.9"/>
<text x="483.4" y="573.64" font-size="9" fill="#3a3a3a" text-anchor="end">15</text>
<path d="M485.4 539.1H489.2" stroke="#606060" stroke-width="0.9"/>
<text x="483.4" y="543.34" font-size="9" fill="#3a3a3a" text-anchor="end">20</text>
<path d="M486.2 645.15H488.6" stroke="#606060" stroke-width="0.9"/>
<path d="M486.2 614.85H488.6" stroke="#606060" stroke-width="0.9"/>
<path d="M486.2 584.55H488.6" stroke="#606060" stroke-width="0.9"/>
<path d="M486.2 554.25H488.6" stroke="#606060" stroke-width="0.9"/>
<path d="M513.05 658.5V662.1" stroke="#606060" stroke-width="0.9"/>
<text x="513.05" y="672.74" font-size="9" fill="#3a3a3a" text-anchor="middle">10.8</text>
<path d="M543.21 658.5V662.1" stroke="#606060" stroke-width="0.9"/>
<text x="543.21" y="672.74" font-size="9" fill="#3a3a3a" text-anchor="middle">12.0</text>
<path d="M573.37 658.5V662.1" stroke="#606060" stroke-width="0.9"/>
<text x="573.37" y="672.74" font-size="9" fill="#3a3a3a" text-anchor="middle">13.2</text>
<path d="M603.54 658.5V662.1" stroke="#606060" stroke-width="0.9"/>
<text x="603.54" y="672.74" font-size="9" fill="#3a3a3a" text-anchor="middle">14.4</text>
<path d="M633.7 658.5V662.1" stroke="#606060" stroke-width="0.9"/>
<text x="633.7" y="672.74" font-size="9" fill="#3a3a3a" text-anchor="middle">15.6</text>
<path d="M663.86 658.5V662.1" stroke="#606060" stroke-width="0.9"/>
<text x="663.86" y="672.74" font-size="9" fill="#3a3a3a" text-anchor="middle">16.8</text>
<path d="M497.96 659.1V661.5" stroke="#606060" stroke-width="0.9"/>
<path d="M528.13 659.1V661.5" stroke="#606060" stroke-width="0.9"/>
<path d="M558.29 659.1V661.5" stroke="#606060" stroke-width="0.9"/>
<path d="M588.45 659.1V661.5" stroke="#606060" stroke-width="0.9"/>
<path d="M618.62 659.1V661.5" stroke="#606060" stroke-width="0.9"/>
<path d="M648.78 659.1V661.5" stroke="#606060" stroke-width="0.9"/>
<path d="M678.95 659.1V661.5" stroke="#606060" stroke-width="0.9"/>
<text x="528.13" y="604.15" font-size="9" fill="#5e4614" text-anchor="middle">20</text>
<text x="568.35" y="604.15" font-size="9" fill="#5e4614" text-anchor="middle">20</text>
<text x="608.56" y="604.15" font-size="9" fill="#5e4614" text-anchor="middle">20</text>
<text x="628.67" y="604.15" font-size="9" fill="#5e4614" text-anchor="middle">20</text>
<text x="538.18" y="664.78" font-size="8.8" fill="#606060" text-anchor="middle">0</text>
<text x="548.24" y="664.78" font-size="8.8" fill="#606060" text-anchor="middle">0</text>
<text x="558.29" y="664.78" font-size="8.8" fill="#606060" text-anchor="middle">0</text>
<text x="578.4" y="664.78" font-size="8.8" fill="#606060" text-anchor="middle">0</text>
<text x="588.45" y="664.78" font-size="8.8" fill="#606060" text-anchor="middle">0</text>
<text x="598.51" y="664.78" font-size="8.8" fill="#606060" text-anchor="middle">0</text>
<text x="618.62" y="664.78" font-size="8.8" fill="#606060" text-anchor="middle">0</text>
<polyline clip-path="url(#cl)" points="487.4,657.75 489.01,657.49 490.62,657.2 492.23,656.9 493.85,656.57 495.46,656.22 497.07,655.84 498.68,655.43 500.29,654.99 501.9,654.53 503.52,654.03 505.13,653.51 506.74,652.95 508.35,652.35 509.96,651.72 511.57,651.06 513.19,650.37 514.8,649.64 516.41,648.87 518.02,648.07 519.63,647.23 521.25,646.36 522.86,645.45 524.47,644.51 526.08,643.54 527.69,642.54 529.3,641.51 530.91,640.45 532.53,639.36 534.14,638.26 535.75,637.13 537.36,635.98 538.97,634.82 540.58,633.65 542.2,632.46 543.81,631.27 545.42,630.08 547.03,628.9 548.64,627.72 550.25,626.54 551.87,625.39 553.48,624.25 555.09,623.14 556.7,622.05 558.31,621 559.92,619.98 561.54,619.01 563.15,618.08 564.76,617.2 566.37,616.37 567.98,615.6 569.6,614.88 571.21,614.24 572.82,613.66 574.43,613.14 576.04,612.7 577.65,612.34 579.26,612.05 580.88,611.84 582.49,611.7 584.1,611.65 585.71,611.67 587.32,611.77 588.93,611.95 590.55,612.21 592.16,612.54 593.77,612.95 595.38,613.44 596.99,613.99 598.61,614.61 600.22,615.29 601.83,616.04 603.44,616.85 605.05,617.71 606.66,618.62 608.27,619.58 609.89,620.58 611.5,621.61 613.11,622.69 614.72,623.79 616.33,624.92 617.94,626.07 619.56,627.23 621.17,628.41 622.78,629.59 624.39,630.78 626,631.97 627.62,633.16 629.23,634.34 630.84,635.5 632.45,636.66 634.06,637.79 635.67,638.91 637.28,640 638.9,641.07 640.51,642.12 642.12,643.13 643.73,644.12 645.34,645.07 646.95,645.99 648.57,646.87 650.18,647.72 651.79,648.54 653.4,649.32 655.01,650.07 656.62,650.78 658.24,651.46 659.85,652.1 661.46,652.7 663.07,653.28 664.68,653.82 666.29,654.33 667.91,654.81 669.52,655.25 671.13,655.67 672.74,656.06 674.35,656.43 675.96,656.77 677.58,657.08 679.19,657.37 680.8,657.64" fill="none" stroke="#dc55dc" stroke-width="1.3"/>
<rect x="489.2" y="533.1" width="7.5" height="4.4" fill="#F6990A" stroke="#9c6008" stroke-width="0.8"/>
<text x="497.9" y="538.4" font-size="8.8" fill="#383838" font-weight="bold" textLength="24" lengthAdjust="spacingAndGlyphs">IPSoil</text>
<text x="497.6" y="549.8" font-size="8.8" fill="#383838" font-weight="bold" textLength="13.8" lengthAdjust="spacingAndGlyphs">(%)</text>
<text x="645.2" y="541.3" font-size="8.8" fill="#303030" font-weight="bold" textLength="29.9" lengthAdjust="spacingAndGlyphs">Normal</text>
<text x="645.2" y="549.4" font-size="9.1" fill="#484848">mu</text>
<text x="647.8" y="560.6" font-size="9.1" fill="#484848" textLength="22.2" lengthAdjust="spacingAndGlyphs">13.64</text>
<text x="645.2" y="570.3" font-size="9.1" fill="#484848">sigma</text>
<text x="650.3" y="582.2" font-size="9.1" fill="#484848" textLength="21.8" lengthAdjust="spacingAndGlyphs">1.590</text>
<text x="577.5" y="687.5" font-size="13" fill="#000" text-anchor="middle" font-weight="bold" font-family="Liberation Serif">(l)</text>
<clipPath id="cm"><rect x="15.6" y="707.2" width="195.7" height="129.3"/></clipPath>
<path d="M15.6 707.2H211.3V836.5" fill="none" stroke="#a8a8a8" stroke-width="1.3"/>
<path d="M15.6 707.2V836.5H211.3" fill="none" stroke="#8c8c8c" stroke-width="1.3"/>
<rect x="64.1" y="759.56" width="8.86" height="76.94" fill="#F6990A" stroke="#9c6008" stroke-width="0.9"/>
<rect x="72.96" y="717.6" width="8.86" height="118.9" fill="#F6990A" stroke="#9c6008" stroke-width="0.9"/>
<rect x="81.82" y="780.55" width="8.86" height="55.95" fill="#F6990A" stroke="#9c6008" stroke-width="0.9"/>
<rect x="90.68" y="815.52" width="8.86" height="20.98" fill="#F6990A" stroke="#9c6008" stroke-width="0.9"/>
<rect x="99.54" y="829.51" width="8.86" height="6.99" fill="#F6990A" stroke="#9c6008" stroke-width="0.9"/>
<rect x="108.4" y="794.54" width="8.86" height="41.96" fill="#F6990A" stroke="#9c6008" stroke-width="0.9"/>
<rect x="117.26" y="801.53" width="8.86" height="34.97" fill="#F6990A" stroke="#9c6008" stroke-width="0.9"/>
<rect x="126.12" y="822.51" width="8.86" height="13.99" fill="#F6990A" stroke="#9c6008" stroke-width="0.9"/>
<rect x="134.98" y="808.52" width="8.86" height="27.98" fill="#F6990A" stroke="#9c6008" stroke-width="0.9"/>
<rect x="143.84" y="787.54" width="8.86" height="48.96" fill="#F6990A" stroke="#9c6008" stroke-width="0.9"/>
<rect x="152.7" y="808.52" width="8.86" height="27.98" fill="#F6990A" stroke="#9c6008" stroke-width="0.9"/>
<rect x="161.56" y="808.52" width="8.86" height="27.98" fill="#F6990A" stroke="#9c6008" stroke-width="0.9"/>
<rect x="170.42" y="822.51" width="8.86" height="13.99" fill="#F6990A" stroke="#9c6008" stroke-width="0.9"/>
<rect x="179.28" y="815.52" width="8.86" height="20.98" fill="#F6990A" stroke="#9c6008" stroke-width="0.9"/>
<rect x="188.14" y="829.51" width="8.86" height="6.99" fill="#F6990A" stroke="#9c6008" stroke-width="0.9"/>
<rect x="197" y="822.51" width="8.86" height="13.99" fill="#F6990A" stroke="#9c6008" stroke-width="0.9"/>
<path d="M13.6 836.5H17.4" stroke="#606060" stroke-width="0.9"/>
<text x="12.6" y="840.74" font-size="9" fill="#3a3a3a" text-anchor="end">0</text>
<path d="M13.6 822.51H17.4" stroke="#606060" stroke-width="0.9"/>
<text x="12.6" y="826.75" font-size="9" fill="#3a3a3a" text-anchor="end">2</text>
<path d="M13.6 808.52H17.4" stroke="#606060" stroke-width="0.9"/>
<text x="12.6" y="812.76" font-size="9" fill="#3a3a3a" text-anchor="end">4</text>
<path d="M13.6 794.54H17.4" stroke="#606060" stroke-width="0.9"/>
<text x="12.6" y="798.78" font-size="9" fill="#3a3a3a" text-anchor="end">6</text>
<path d="M13.6 780.55H17.4" stroke="#606060" stroke-width="0.9"/>
<text x="12.6" y="784.79" font-size="9" fill="#3a3a3a" text-anchor="end">8</text>
<path d="M13.6 766.56H17.4" stroke="#606060" stroke-width="0.9"/>
<text x="12.6" y="770.8" font-size="9" fill="#3a3a3a" text-anchor="end">10</text>
<path d="M13.6 752.57H17.4" stroke="#606060" stroke-width="0.9"/>
<text x="12.6" y="756.81" font-size="9" fill="#3a3a3a" text-anchor="end">12</text>
<path d="M13.6 738.58H17.4" stroke="#606060" stroke-width="0.9"/>
<text x="12.6" y="742.82" font-size="9" fill="#3a3a3a" text-anchor="end">14</text>
<path d="M13.6 724.59H17.4" stroke="#606060" stroke-width="0.9"/>
<text x="12.6" y="728.83" font-size="9" fill="#3a3a3a" text-anchor="end">16</text>
<path d="M13.6 710.61H17.4" stroke="#606060" stroke-width="0.9"/>
<text x="12.6" y="714.85" font-size="9" fill="#3a3a3a" text-anchor="end">18</text>
<path d="M14.4 829.51H16.8" stroke="#606060" stroke-width="0.9"/>
<path d="M14.4 815.52H16.8" stroke="#606060" stroke-width="0.9"/>
<path d="M14.4 801.53H16.8" stroke="#606060" stroke-width="0.9"/>
<path d="M14.4 787.54H16.8" stroke="#606060" stroke-width="0.9"/>
<path d="M14.4 773.55H16.8" stroke="#606060" stroke-width="0.9"/>
<path d="M14.4 759.56H16.8" stroke="#606060" stroke-width="0.9"/>
<path d="M14.4 745.58H16.8" stroke="#606060" stroke-width="0.9"/>
<path d="M14.4 731.59H16.8" stroke="#606060" stroke-width="0.9"/>
<path d="M14.4 717.6H16.8" stroke="#606060" stroke-width="0.9"/>
<path d="M37.52 834.7V838.3" stroke="#606060" stroke-width="0.9"/>
<text x="37.52" y="849.54" font-size="9" fill="#3a3a3a" text-anchor="middle">-6</text>
<path d="M64.1 834.7V838.3" stroke="#606060" stroke-width="0.9"/>
<text x="64.1" y="849.54" font-size="9" fill="#3a3a3a" text-anchor="middle">0</text>
<path d="M90.68 834.7V838.3" stroke="#606060" stroke-width="0.9"/>
<text x="90.68" y="849.54" font-size="9" fill="#3a3a3a" text-anchor="middle">6</text>
<path d="M117.26 834.7V838.3" stroke="#606060" stroke-width="0.9"/>
<text x="117.26" y="849.54" font-size="9" fill="#3a3a3a" text-anchor="middle">12</text>
<path d="M143.84 834.7V838.3" stroke="#606060" stroke-width="0.9"/>
<text x="143.84" y="849.54" font-size="9" fill="#3a3a3a" text-anchor="middle">18</text>
<path d="M170.42 834.7V838.3" stroke="#606060" stroke-width="0.9"/>
<text x="170.42" y="849.54" font-size="9" fill="#3a3a3a" text-anchor="middle">24</text>
<path d="M197 834.7V838.3" stroke="#606060" stroke-width="0.9"/>
<text x="197" y="849.54" font-size="9" fill="#3a3a3a" text-anchor="middle">30</text>
<path d="M24.23 835.3V837.7" stroke="#606060" stroke-width="0.9"/>
<path d="M50.81 835.3V837.7" stroke="#606060" stroke-width="0.9"/>
<path d="M77.39 835.3V837.7" stroke="#606060" stroke-width="0.9"/>
<path d="M103.97 835.3V837.7" stroke="#606060" stroke-width="0.9"/>
<path d="M130.55 835.3V837.7" stroke="#606060" stroke-width="0.9"/>
<path d="M157.13 835.3V837.7" stroke="#606060" stroke-width="0.9"/>
<path d="M183.71 835.3V837.7" stroke="#606060" stroke-width="0.9"/>
<path d="M210.29 835.3V837.7" stroke="#606060" stroke-width="0.9"/>
<text x="68.53" y="801.96" font-size="7.5" fill="#5e4614" text-anchor="middle">11</text>
<text x="77.39" y="784.23" font-size="7.5" fill="#5e4614" text-anchor="middle">17</text>
<text x="86.25" y="812.45" font-size="7.5" fill="#5e4614" text-anchor="middle">8</text>
<text x="95.11" y="829.93" font-size="7.5" fill="#5e4614" text-anchor="middle">3</text>
<text x="103.97" y="836.93" font-size="7.5" fill="#5e4614" text-anchor="middle">1</text>
<text x="112.83" y="819.44" font-size="7.5" fill="#5e4614" text-anchor="middle">6</text>
<text x="121.69" y="822.94" font-size="7.5" fill="#5e4614" text-anchor="middle">5</text>
<text x="130.55" y="833.43" font-size="7.5" fill="#5e4614" text-anchor="middle">2</text>
<text x="139.41" y="826.44" font-size="7.5" fill="#5e4614" text-anchor="middle">4</text>
<text x="148.27" y="818.02" font-size="7.5" fill="#5e4614" text-anchor="middle">7</text>
<text x="157.13" y="826.44" font-size="7.5" fill="#5e4614" text-anchor="middle">4</text>
<text x="165.99" y="826.44" font-size="7.5" fill="#5e4614" text-anchor="middle">4</text>
<text x="174.85" y="833.43" font-size="7.5" fill="#5e4614" text-anchor="middle">2</text>
<text x="183.71" y="829.93" font-size="7.5" fill="#5e4614" text-anchor="middle">3</text>
<text x="192.57" y="836.93" font-size="7.5" fill="#5e4614" text-anchor="middle">1</text>
<text x="201.43" y="833.43" font-size="7.5" fill="#5e4614" text-anchor="middle">2</text>
<polyline clip-path="url(#cm)" points="15.6,833.97 17.23,833.71 18.86,833.43 20.49,833.12 22.12,832.79 23.75,832.43 25.38,832.05 27.02,831.64 28.65,831.2 30.28,830.73 31.91,830.23 33.54,829.69 35.17,829.13 36.8,828.52 38.43,827.89 40.06,827.22 41.69,826.51 43.32,825.76 44.96,824.98 46.59,824.17 48.22,823.31 49.85,822.43 51.48,821.5 53.11,820.54 54.74,819.55 56.37,818.53 58,817.48 59.63,816.4 61.26,815.29 62.89,814.16 64.53,813 66.16,811.83 67.79,810.64 69.42,809.44 71.05,808.23 72.68,807.02 74.31,805.8 75.94,804.59 77.57,803.38 79.2,802.19 80.83,801.01 82.46,799.85 84.1,798.72 85.73,797.61 87.36,796.54 88.99,795.5 90.62,794.51 92.25,793.57 93.88,792.68 95.51,791.84 97.14,791.06 98.77,790.35 100.4,789.7 102.03,789.12 103.67,788.61 105.3,788.18 106.93,787.82 108.56,787.54 110.19,787.35 111.82,787.23 113.45,787.19 115.08,787.24 116.71,787.36 118.34,787.57 119.97,787.86 121.6,788.22 123.23,788.66 124.87,789.18 126.5,789.77 128.13,790.42 129.76,791.14 131.39,791.93 133.02,792.77 134.65,793.67 136.28,794.62 137.91,795.61 139.54,796.65 141.17,797.73 142.81,798.84 144.44,799.98 146.07,801.14 147.7,802.32 149.33,803.52 150.96,804.72 152.59,805.94 154.22,807.15 155.85,808.37 157.48,809.57 159.11,810.77 160.74,811.96 162.38,813.13 164.01,814.28 165.64,815.41 167.27,816.52 168.9,817.59 170.53,818.64 172.16,819.66 173.79,820.65 175.42,821.6 177.05,822.52 178.68,823.41 180.31,824.26 181.94,825.07 183.58,825.85 185.21,826.59 186.84,827.29 188.47,827.96 190.1,828.59 191.73,829.19 193.36,829.75 194.99,830.28 196.62,830.78 198.25,831.25 199.88,831.69 201.52,832.09 203.15,832.47 204.78,832.83 206.41,833.16 208.04,833.46 209.67,833.74 211.3,834" fill="none" stroke="#dc55dc" stroke-width="1.3"/>
<rect x="18.1" y="709.8" width="8.8" height="3.7" fill="#F6990A" stroke="#9c6008" stroke-width="0.8"/>
<text x="28.5" y="714.3" font-size="8.8" fill="#383838" font-weight="bold" textLength="44.9" lengthAdjust="spacingAndGlyphs">Swheel(%)</text>
<text x="152.7" y="715.4" font-size="8.8" fill="#303030" font-weight="bold" textLength="30.5" lengthAdjust="spacingAndGlyphs">Normal</text>
<text x="152.7" y="723.6" font-size="9.1" fill="#484848">mu</text>
<text x="207" y="723.6" font-size="9.1" fill="#484848" text-anchor="end">11.12</text>
<text x="152.7" y="734.2" font-size="9.1" fill="#484848">sigma</text>
<text x="207" y="734.2" font-size="9.1" fill="#484848" text-anchor="end">9.054</text>
<text x="213.7" y="717.5" font-size="9" fill="#333" text-anchor="middle">;</text>
<path d="M212.3 743.9H213.8" stroke="#bbb" stroke-width="0.8"/>
<path d="M212.3 775.4H213.8" stroke="#bbb" stroke-width="0.8"/>
<text x="106.8" y="864.4" font-size="13" fill="#000" text-anchor="middle" font-weight="bold" font-family="Liberation Serif">(m)</text>
<clipPath id="cn"><rect x="247.4" y="707.6" width="197.3" height="131.9"/></clipPath>
<path d="M247.4 707.6H444.7V839.5" fill="none" stroke="#a8a8a8" stroke-width="1.3"/>
<path d="M247.4 707.6V839.5H444.7" fill="none" stroke="#8c8c8c" stroke-width="1.3"/>
<path d="M266.47 839.5H278.8" stroke="#3c3c3c" stroke-width="1.4"/>
<rect x="278.8" y="715.4" width="12.33" height="124.1" fill="#F6990A" stroke="#9c6008" stroke-width="0.9"/>
<path d="M291.13 839.5H303.47" stroke="#3c3c3c" stroke-width="1.4"/>
<path d="M303.47 839.5H315.8" stroke="#3c3c3c" stroke-width="1.4"/>
<path d="M315.8 839.5H328.13" stroke="#3c3c3c" stroke-width="1.4"/>
<path d="M328.13 839.5H340.47" stroke="#3c3c3c" stroke-width="1.4"/>
<rect x="340.47" y="715.4" width="12.33" height="124.1" fill="#F6990A" stroke="#9c6008" stroke-width="0.9"/>
<path d="M352.8 839.5H365.13" stroke="#3c3c3c" stroke-width="1.4"/>
<rect x="365.13" y="715.4" width="12.33" height="124.1" fill="#F6990A" stroke="#9c6008" stroke-width="0.9"/>
<rect x="377.47" y="715.4" width="12.33" height="124.1" fill="#F6990A" stroke="#9c6008" stroke-width="0.9"/>
<path d="M245.4 839.5H249.2" stroke="#606060" stroke-width="0.9"/>
<text x="244.3" y="843.02" font-size="7" fill="#3a3a3a" text-anchor="end">0</text>
<path d="M245.4 808.48H249.2" stroke="#606060" stroke-width="0.9"/>
<text x="244.3" y="812" font-size="7" fill="#3a3a3a" text-anchor="end">5</text>
<path d="M245.4 777.45H249.2" stroke="#606060" stroke-width="0.9"/>
<text x="244.3" y="780.97" font-size="7" fill="#3a3a3a" text-anchor="end">10</text>
<path d="M245.4 746.42H249.2" stroke="#606060" stroke-width="0.9"/>
<text x="244.3" y="749.94" font-size="7" fill="#3a3a3a" text-anchor="end">15</text>
<path d="M245.4 715.4H249.2" stroke="#606060" stroke-width="0.9"/>
<text x="244.3" y="718.92" font-size="7" fill="#3a3a3a" text-anchor="end">20</text>
<path d="M246.2 823.99H248.6" stroke="#606060" stroke-width="0.9"/>
<path d="M246.2 792.96H248.6" stroke="#606060" stroke-width="0.9"/>
<path d="M246.2 761.94H248.6" stroke="#606060" stroke-width="0.9"/>
<path d="M246.2 730.91H248.6" stroke="#606060" stroke-width="0.9"/>
<path d="M254.13 837.7V841.3" stroke="#606060" stroke-width="0.9"/>
<text x="254.13" y="849.42" font-size="7" fill="#3a3a3a" text-anchor="middle">0.56</text>
<path d="M278.8 837.7V841.3" stroke="#606060" stroke-width="0.9"/>
<text x="278.8" y="849.42" font-size="7" fill="#3a3a3a" text-anchor="middle">0.64</text>
<path d="M303.47 837.7V841.3" stroke="#606060" stroke-width="0.9"/>
<text x="303.47" y="849.42" font-size="7" fill="#3a3a3a" text-anchor="middle">0.72</text>
<path d="M328.13 837.7V841.3" stroke="#606060" stroke-width="0.9"/>
<text x="328.13" y="849.42" font-size="7" fill="#3a3a3a" text-anchor="middle">0.80</text>
<path d="M352.8 837.7V841.3" stroke="#606060" stroke-width="0.9"/>
<text x="352.8" y="849.42" font-size="7" fill="#3a3a3a" text-anchor="middle">0.88</text>
<path d="M377.47 837.7V841.3" stroke="#606060" stroke-width="0.9"/>
<text x="377.47" y="849.42" font-size="7" fill="#3a3a3a" text-anchor="middle">0.96</text>
<path d="M402.13 837.7V841.3" stroke="#606060" stroke-width="0.9"/>
<text x="402.13" y="849.42" font-size="7" fill="#3a3a3a" text-anchor="middle">1.04</text>
<path d="M426.8 837.7V841.3" stroke="#606060" stroke-width="0.9"/>
<text x="426.8" y="849.42" font-size="7" fill="#3a3a3a" text-anchor="middle">1.12</text>
<path d="M266.47 838.3V840.7" stroke="#606060" stroke-width="0.9"/>
<path d="M291.13 838.3V840.7" stroke="#606060" stroke-width="0.9"/>
<path d="M315.8 838.3V840.7" stroke="#606060" stroke-width="0.9"/>
<path d="M340.47 838.3V840.7" stroke="#606060" stroke-width="0.9"/>
<path d="M365.13 838.3V840.7" stroke="#606060" stroke-width="0.9"/>
<path d="M389.8 838.3V840.7" stroke="#606060" stroke-width="0.9"/>
<path d="M414.47 838.3V840.7" stroke="#606060" stroke-width="0.9"/>
<path d="M439.13 838.3V840.7" stroke="#606060" stroke-width="0.9"/>
<text x="284.97" y="781.9" font-size="9" fill="#5e4614" text-anchor="middle">20</text>
<text x="346.63" y="781.9" font-size="9" fill="#5e4614" text-anchor="middle">20</text>
<text x="371.3" y="781.9" font-size="9" fill="#5e4614" text-anchor="middle">20</text>
<text x="383.63" y="781.9" font-size="9" fill="#5e4614" text-anchor="middle">20</text>
<text x="297.3" y="843.98" font-size="8.8" fill="#606060" text-anchor="middle">0</text>
<text x="309.63" y="843.98" font-size="8.8" fill="#606060" text-anchor="middle">0</text>
<text x="321.97" y="843.98" font-size="8.8" fill="#606060" text-anchor="middle">0</text>
<text x="334.3" y="843.98" font-size="8.8" fill="#606060" text-anchor="middle">0</text>
<text x="358.97" y="843.98" font-size="8.8" fill="#606060" text-anchor="middle">0</text>
<polyline clip-path="url(#cn)" points="247.4,836.36 249.04,836.04 250.69,835.69 252.33,835.32 253.98,834.91 255.62,834.48 257.26,834.01 258.91,833.51 260.55,832.97 262.2,832.4 263.84,831.79 265.49,831.14 267.13,830.45 268.77,829.72 270.42,828.95 272.06,828.13 273.71,827.28 275.35,826.38 277,825.43 278.64,824.44 280.28,823.41 281.93,822.34 283.57,821.22 285.22,820.07 286.86,818.87 288.5,817.64 290.15,816.37 291.79,815.06 293.44,813.73 295.08,812.36 296.73,810.97 298.37,809.56 300.01,808.13 301.66,806.68 303.3,805.23 304.95,803.76 306.59,802.3 308.23,800.83 309.88,799.38 311.52,797.94 313.17,796.51 314.81,795.11 316.45,793.74 318.1,792.4 319.74,791.11 321.39,789.85 323.03,788.65 324.68,787.5 326.32,786.42 327.96,785.4 329.61,784.45 331.25,783.57 332.9,782.77 334.54,782.06 336.19,781.43 337.83,780.89 339.47,780.44 341.12,780.08 342.76,779.82 344.41,779.65 346.05,779.58 347.69,779.61 349.34,779.74 350.98,779.96 352.63,780.28 354.27,780.69 355.92,781.2 357.56,781.79 359.2,782.47 360.85,783.23 362.49,784.08 364.14,785 365.78,785.99 367.42,787.05 369.07,788.17 370.71,789.35 372.36,790.59 374,791.87 375.64,793.19 377.29,794.55 378.93,795.94 380.58,797.35 382.22,798.79 383.87,800.24 385.51,801.7 387.15,803.16 388.8,804.63 390.44,806.09 392.09,807.54 393.73,808.98 395.38,810.4 397.02,811.8 398.66,813.17 400.31,814.52 401.95,815.84 403.6,817.12 405.24,818.37 406.88,819.58 408.53,820.75 410.17,821.89 411.82,822.98 413.46,824.03 415.11,825.03 416.75,825.99 418.39,826.91 420.04,827.79 421.68,828.62 423.33,829.41 424.97,830.16 426.61,830.86 428.26,831.53 429.9,832.15 431.55,832.74 433.19,833.29 434.83,833.81 436.48,834.29 438.12,834.74 439.77,835.16 441.41,835.54 443.06,835.9 444.7,836.23" fill="none" stroke="#dc55dc" stroke-width="1.3"/>
<rect x="251.6" y="709.4" width="8.8" height="3.6" fill="#F6990A" stroke="#9c6008" stroke-width="0.8"/>
<text x="250.9" y="720.9" font-size="8.8" fill="#383838" font-weight="bold" textLength="24.4" lengthAdjust="spacingAndGlyphs">CIsoil</text>
<text x="250.9" y="731.6" font-size="8.8" fill="#383838" font-weight="bold" textLength="24.6" lengthAdjust="spacingAndGlyphs">(Mpa)</text>
<text x="399" y="716.4" font-size="8.8" fill="#303030" font-weight="bold" textLength="30.5" lengthAdjust="spacingAndGlyphs">Normal</text>
<text x="399" y="726.5" font-size="9" fill="#262626">mu</text>
<text x="403" y="737.9" font-size="9" fill="#262626" textLength="28.9" lengthAdjust="spacingAndGlyphs">0.8592</text>
<text x="399" y="748.5" font-size="9" fill="#262626">sigma</text>
<text x="403" y="759.1" font-size="9" fill="#262626" textLength="28.9" lengthAdjust="spacingAndGlyphs">0.1322</text>
<text x="342.5" y="863.8" font-size="13" fill="#000" text-anchor="middle" font-weight="bold" font-family="Liberation Serif">(n)</text>
<clipPath id="co"><rect x="487.9" y="708.2" width="193.6" height="128.8"/></clipPath>
<path d="M487.9 708.2H681.5V837" fill="none" stroke="#a8a8a8" stroke-width="1.3"/>
<path d="M487.9 708.2V837H681.5" fill="none" stroke="#8c8c8c" stroke-width="1.3"/>
<rect x="533.1" y="716.3" width="12.1" height="120.7" fill="#F6990A" stroke="#9c6008" stroke-width="0.9"/>
<rect x="545.2" y="796.77" width="12.1" height="40.23" fill="#F6990A" stroke="#9c6008" stroke-width="0.9"/>
<rect x="557.3" y="796.77" width="12.1" height="40.23" fill="#F6990A" stroke="#9c6008" stroke-width="0.9"/>
<rect x="569.4" y="796.77" width="12.1" height="40.23" fill="#F6990A" stroke="#9c6008" stroke-width="0.9"/>
<rect x="581.5" y="776.65" width="12.1" height="60.35" fill="#F6990A" stroke="#9c6008" stroke-width="0.9"/>
<rect x="593.6" y="816.88" width="12.1" height="20.12" fill="#F6990A" stroke="#9c6008" stroke-width="0.9"/>
<rect x="605.7" y="796.77" width="12.1" height="40.23" fill="#F6990A" stroke="#9c6008" stroke-width="0.9"/>
<rect x="629.9" y="816.88" width="12.1" height="20.12" fill="#F6990A" stroke="#9c6008" stroke-width="0.9"/>
<rect x="666.2" y="816.88" width="12.1" height="20.12" fill="#F6990A" stroke="#9c6008" stroke-width="0.9"/>
<path d="M485.9 837H489.7" stroke="#606060" stroke-width="0.9"/>
<text x="483.9" y="841.24" font-size="9" fill="#3a3a3a" text-anchor="end">0</text>
<path d="M485.9 811.85H489.7" stroke="#606060" stroke-width="0.9"/>
<text x="483.9" y="816.09" font-size="9" fill="#3a3a3a" text-anchor="end">5</text>
<path d="M485.9 786.71H489.7" stroke="#606060" stroke-width="0.9"/>
<text x="483.9" y="790.95" font-size="9" fill="#3a3a3a" text-anchor="end">10</text>
<path d="M485.9 761.56H489.7" stroke="#606060" stroke-width="0.9"/>
<text x="483.9" y="765.8" font-size="9" fill="#3a3a3a" text-anchor="end">15</text>
<path d="M485.9 736.42H489.7" stroke="#606060" stroke-width="0.9"/>
<text x="483.9" y="740.66" font-size="9" fill="#3a3a3a" text-anchor="end">20</text>
<path d="M485.9 711.27H489.7" stroke="#606060" stroke-width="0.9"/>
<text x="483.9" y="715.51" font-size="9" fill="#3a3a3a" text-anchor="end">25</text>
<path d="M486.7 824.43H489.1" stroke="#606060" stroke-width="0.9"/>
<path d="M486.7 799.28H489.1" stroke="#606060" stroke-width="0.9"/>
<path d="M486.7 774.14H489.1" stroke="#606060" stroke-width="0.9"/>
<path d="M486.7 748.99H489.1" stroke="#606060" stroke-width="0.9"/>
<path d="M486.7 723.84H489.1" stroke="#606060" stroke-width="0.9"/>
<path d="M496.8 835.2V838.8" stroke="#606060" stroke-width="0.9"/>
<text x="496.8" y="849.24" font-size="9" fill="#3a3a3a" text-anchor="middle">0.13</text>
<path d="M521 835.2V838.8" stroke="#606060" stroke-width="0.9"/>
<text x="521" y="849.24" font-size="9" fill="#3a3a3a" text-anchor="middle">0.14</text>
<path d="M545.2 835.2V838.8" stroke="#606060" stroke-width="0.9"/>
<text x="545.2" y="849.24" font-size="9" fill="#3a3a3a" text-anchor="middle">0.15</text>
<path d="M569.4 835.2V838.8" stroke="#606060" stroke-width="0.9"/>
<text x="569.4" y="849.24" font-size="9" fill="#3a3a3a" text-anchor="middle">0.16</text>
<path d="M593.6 835.2V838.8" stroke="#606060" stroke-width="0.9"/>
<text x="593.6" y="849.24" font-size="9" fill="#3a3a3a" text-anchor="middle">0.17</text>
<path d="M617.8 835.2V838.8" stroke="#606060" stroke-width="0.9"/>
<text x="617.8" y="849.24" font-size="9" fill="#3a3a3a" text-anchor="middle">0.18</text>
<path d="M642 835.2V838.8" stroke="#606060" stroke-width="0.9"/>
<text x="642" y="849.24" font-size="9" fill="#3a3a3a" text-anchor="middle">0.19</text>
<path d="M666.2 835.2V838.8" stroke="#606060" stroke-width="0.9"/>
<text x="666.2" y="849.24" font-size="9" fill="#3a3a3a" text-anchor="middle">0.20</text>
<path d="M508.9 835.8V838.2" stroke="#606060" stroke-width="0.9"/>
<path d="M533.1 835.8V838.2" stroke="#606060" stroke-width="0.9"/>
<path d="M557.3 835.8V838.2" stroke="#606060" stroke-width="0.9"/>
<path d="M581.5 835.8V838.2" stroke="#606060" stroke-width="0.9"/>
<path d="M605.7 835.8V838.2" stroke="#606060" stroke-width="0.9"/>
<path d="M629.9 835.8V838.2" stroke="#606060" stroke-width="0.9"/>
<path d="M654.1 835.8V838.2" stroke="#606060" stroke-width="0.9"/>
<path d="M678.3 835.8V838.2" stroke="#606060" stroke-width="0.9"/>
<text x="539.15" y="779.48" font-size="8.8" fill="#5e4614" text-anchor="middle">24</text>
<text x="551.25" y="820.48" font-size="8.8" fill="#5e4614" text-anchor="middle">8</text>
<text x="563.35" y="815.68" font-size="8.8" fill="#5e4614" text-anchor="middle">8</text>
<text x="575.45" y="820.88" font-size="8.8" fill="#5e4614" text-anchor="middle">8</text>
<text x="587.55" y="809.08" font-size="8.8" fill="#5e4614" text-anchor="middle">12</text>
<text x="599.65" y="831.32" font-size="8.8" fill="#5e4614" text-anchor="middle">4</text>
<text x="611.75" y="821.26" font-size="8.8" fill="#5e4614" text-anchor="middle">8</text>
<text x="635.95" y="831.32" font-size="8.8" fill="#5e4614" text-anchor="middle">4</text>
<text x="672.25" y="831.32" font-size="8.8" fill="#5e4614" text-anchor="middle">4</text>
<text x="623.85" y="833.87" font-size="8.2" fill="#606060" text-anchor="middle">0</text>
<text x="648.05" y="833.87" font-size="8.2" fill="#606060" text-anchor="middle">0</text>
<text x="660.15" y="833.87" font-size="8.2" fill="#606060" text-anchor="middle">0</text>
<polyline clip-path="url(#co)" points="487.9,834.25 489.51,833.93 491.13,833.58 492.74,833.2 494.35,832.79 495.97,832.34 497.58,831.85 499.19,831.32 500.81,830.76 502.42,830.15 504.03,829.49 505.65,828.79 507.26,828.04 508.87,827.25 510.49,826.41 512.1,825.51 513.71,824.57 515.33,823.58 516.94,822.53 518.55,821.44 520.17,820.3 521.78,819.11 523.39,817.88 525.01,816.61 526.62,815.29 528.23,813.94 529.85,812.55 531.46,811.14 533.07,809.7 534.69,808.23 536.3,806.75 537.91,805.26 539.53,803.76 541.14,802.27 542.75,800.78 544.37,799.3 545.98,797.85 547.59,796.42 549.21,795.02 550.82,793.67 552.43,792.36 554.05,791.11 555.66,789.93 557.27,788.81 558.89,787.76 560.5,786.79 562.11,785.92 563.73,785.13 565.34,784.43 566.95,783.84 568.57,783.35 570.18,782.97 571.79,782.7 573.41,782.53 575.02,782.48 576.63,782.54 578.25,782.71 579.86,782.99 581.47,783.38 583.09,783.88 584.7,784.48 586.31,785.18 587.93,785.97 589.54,786.86 591.15,787.83 592.77,788.88 594.38,790 595.99,791.2 597.61,792.45 599.22,793.76 600.83,795.12 602.45,796.51 604.06,797.94 605.67,799.4 607.29,800.88 608.9,802.37 610.51,803.86 612.13,805.36 613.74,806.85 615.35,808.33 616.97,809.79 618.58,811.23 620.19,812.65 621.81,814.03 623.42,815.38 625.03,816.7 626.65,817.97 628.26,819.2 629.87,820.38 631.49,821.52 633.1,822.6 634.71,823.64 636.33,824.63 637.94,825.57 639.55,826.46 641.17,827.3 642.78,828.1 644.39,828.84 646.01,829.54 647.62,830.19 649.23,830.8 650.85,831.36 652.46,831.88 654.07,832.37 655.69,832.82 657.3,833.23 658.91,833.61 660.53,833.95 662.14,834.27 663.75,834.56 665.37,834.82 666.98,835.06 668.59,835.28 670.21,835.47 671.82,835.65 673.43,835.8 675.05,835.95 676.66,836.07 678.27,836.19 679.89,836.29 681.5,836.38" fill="none" stroke="#dc55dc" stroke-width="1.3"/>
<rect x="491.8" y="710.4" width="10.2" height="3.5" fill="#F6990A" stroke="#9c6008" stroke-width="0.8"/>
<text x="503.2" y="715.9" font-size="8.8" fill="#383838" font-weight="bold" textLength="19.8" lengthAdjust="spacingAndGlyphs">AStc</text>
<text x="503.2" y="727.2" font-size="8.8" fill="#383838" font-weight="bold" textLength="23.6" lengthAdjust="spacingAndGlyphs">(m^2)</text>
<text x="613.8" y="717.2" font-size="8.8" fill="#303030" font-weight="bold" textLength="30.9" lengthAdjust="spacingAndGlyphs">Normal</text>
<text x="613.8" y="725.9" font-size="9.1" fill="#484848">mu</text>
<text x="678.9" y="725.9" font-size="9.1" fill="#484848" text-anchor="end">0.1623</text>
<text x="613.8" y="736.7" font-size="9.1" fill="#484848">sigma</text>
<text x="678.9" y="736.7" font-size="9.1" fill="#484848" text-anchor="end">0.01472</text>
<text x="577.6" y="863.4" font-size="13" fill="#000" text-anchor="middle" font-weight="bold" font-family="Liberation Serif">(o)</text></svg>
</body></html>
